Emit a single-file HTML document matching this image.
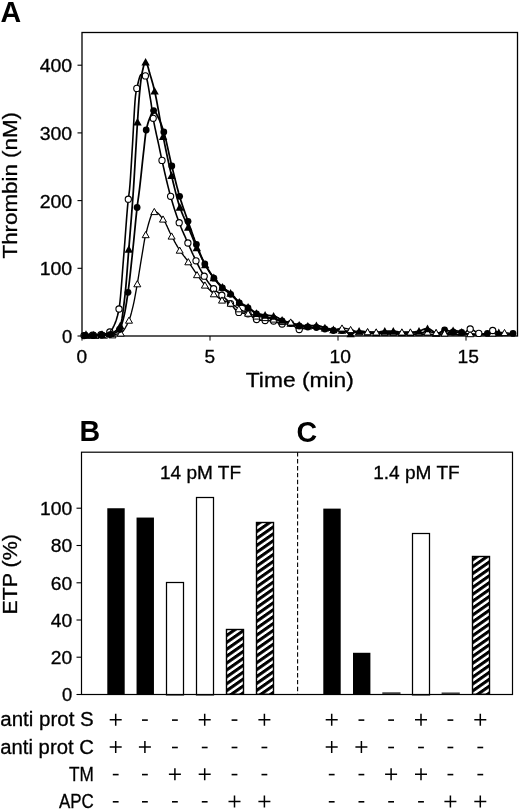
<!DOCTYPE html>
<html><head><meta charset="utf-8"><title>Figure</title>
<style>
html,body{margin:0;padding:0;background:#fff;}
body{width:520px;height:810px;overflow:hidden;font-family:"Liberation Sans",sans-serif;}
svg{display:block;will-change:transform;}
text{stroke:#000;stroke-width:.3px;}
text.b{stroke:none;}
</style></head>
<body>
<svg width="520" height="810" viewBox="0 0 520 810" font-family="Liberation Sans, sans-serif" fill="#000">
<rect width="520" height="810" fill="#fff"/>
<text x="0.5" y="22.4" font-size="28.6" text-anchor="start" font-weight="bold" class="b" >A</text>
<text x="79.5" y="441.2" font-size="28.6" text-anchor="start" font-weight="bold" class="b" >B</text>
<text x="296.5" y="441.6" font-size="28.6" text-anchor="start" font-weight="bold" class="b" >C</text>
<rect x="82.0" y="32.5" width="435.5" height="303.5" fill="none" stroke="#000" stroke-width="1.3"/>
<line x1="77.5" x2="82.0" y1="336.0" y2="336.0" stroke="#000" stroke-width="1.1"/>
<text x="72.2" y="342.9" font-size="17.5" text-anchor="end" textLength="10.2" lengthAdjust="spacingAndGlyphs" >0</text>
<line x1="77.5" x2="82.0" y1="268.3" y2="268.3" stroke="#000" stroke-width="1.1"/>
<text x="72.2" y="275.2" font-size="17.5" text-anchor="end" textLength="32.5" lengthAdjust="spacingAndGlyphs" >100</text>
<line x1="77.5" x2="82.0" y1="200.6" y2="200.6" stroke="#000" stroke-width="1.1"/>
<text x="72.2" y="207.5" font-size="17.5" text-anchor="end" textLength="32.5" lengthAdjust="spacingAndGlyphs" >200</text>
<line x1="77.5" x2="82.0" y1="132.9" y2="132.9" stroke="#000" stroke-width="1.1"/>
<text x="72.2" y="139.8" font-size="17.5" text-anchor="end" textLength="32.5" lengthAdjust="spacingAndGlyphs" >300</text>
<line x1="77.5" x2="82.0" y1="65.2" y2="65.2" stroke="#000" stroke-width="1.1"/>
<text x="72.2" y="72.1" font-size="17.5" text-anchor="end" textLength="32.5" lengthAdjust="spacingAndGlyphs" >400</text>
<line x1="82.0" x2="82.0" y1="336.0" y2="340.6" stroke="#000" stroke-width="1.0"/>
<text x="81.8" y="363.0" font-size="17.5" text-anchor="middle" textLength="10.6" lengthAdjust="spacingAndGlyphs" >0</text>
<line x1="210.0" x2="210.0" y1="336.0" y2="340.6" stroke="#000" stroke-width="1.0"/>
<text x="209.8" y="363.0" font-size="17.5" text-anchor="middle" textLength="10.6" lengthAdjust="spacingAndGlyphs" >5</text>
<line x1="338.0" x2="338.0" y1="336.0" y2="340.6" stroke="#000" stroke-width="1.0"/>
<text x="340.2" y="363.0" font-size="17.5" text-anchor="middle" textLength="21.4" lengthAdjust="spacingAndGlyphs" >10</text>
<line x1="466.0" x2="466.0" y1="336.0" y2="340.6" stroke="#000" stroke-width="1.0"/>
<text x="468.2" y="363.0" font-size="17.5" text-anchor="middle" textLength="21.4" lengthAdjust="spacingAndGlyphs" >15</text>
<text x="245.8" y="387.2" font-size="20" text-anchor="start" textLength="108" lengthAdjust="spacingAndGlyphs" >Time (min)</text>
<text transform="translate(17.4,258.5) rotate(-90)" font-size="20" textLength="146.5" lengthAdjust="spacingAndGlyphs">Thrombin (nM)</text>
<path d="M84.0,335.6 L84.5,335.6 L85.0,335.6 L85.5,335.5 L86.0,335.5 L86.5,335.5 L87.0,335.5 L87.5,335.5 L88.0,335.4 L88.5,335.4 L89.0,335.4 L89.5,335.4 L90.0,335.3 L90.5,335.3 L91.0,335.3 L91.5,335.3 L92.0,335.2 L92.5,335.2 L93.0,335.2 L93.5,335.1 L94.0,335.1 L94.5,335.1 L95.0,335.1 L95.5,335.0 L96.0,335.0 L96.5,335.0 L97.0,334.9 L97.5,334.9 L98.0,334.9 L98.5,334.8 L99.0,334.8 L99.5,334.8 L100.0,334.7 L100.5,334.7 L101.0,334.6 L101.5,334.5 L102.0,334.5 L102.5,334.4 L103.0,334.3 L103.5,334.2 L104.0,334.1 L104.5,334.0 L105.0,333.9 L105.5,333.7 L106.0,333.6 L106.5,333.4 L107.0,333.3 L107.5,333.1 L108.0,332.9 L108.5,332.6 L109.0,332.4 L109.5,332.2 L110.0,331.9 L110.5,331.5 L111.0,330.9 L111.5,330.3 L112.0,329.5 L112.5,328.6 L113.0,327.7 L113.5,326.6 L114.0,325.6 L114.5,324.5 L115.0,323.4 L115.5,322.1 L116.0,320.8 L116.5,319.3 L117.0,317.6 L117.5,315.8 L118.0,313.8 L118.5,311.5 L119.0,309.0 L119.5,305.8 L120.0,301.6 L120.5,296.6 L121.0,290.9 L121.5,284.7 L122.0,278.2 L122.5,271.5 L123.0,265.0 L123.5,258.6 L124.0,252.6 L124.5,246.3 L125.0,239.7 L125.5,233.0 L126.0,226.2 L126.5,219.6 L127.0,213.3 L127.5,207.4 L128.0,202.1 L128.5,197.5 L129.0,194.0 L129.5,190.0 L130.0,184.3 L130.5,177.3 L131.0,169.4 L131.5,161.1 L132.0,152.8 L132.5,144.8 L133.0,136.0 L133.5,126.7 L134.0,117.3 L134.5,108.7 L135.0,101.3 L135.5,95.8 L136.0,92.3 L136.5,89.7 L137.0,87.5 L137.5,85.4 L138.0,83.2 L138.5,81.1 L139.0,79.2 L139.5,77.5 L140.0,76.1 L140.5,75.1 L141.0,74.6 L141.5,74.6 L142.0,74.7 L142.5,74.7 L143.0,74.9 L143.5,75.0 L144.0,75.2 L144.5,75.4 L145.0,75.7 L145.5,76.0 L146.0,76.7 L146.5,78.0 L147.0,79.8 L147.5,82.0 L148.0,84.6 L148.5,87.4 L149.0,90.4 L149.5,93.4 L150.0,96.5 L150.5,99.4 L151.0,102.5 L151.5,106.1 L152.0,109.9 L152.5,113.6 L153.0,117.1 L153.5,120.0 L154.0,122.8 L154.5,125.4 L155.0,127.8 L155.5,130.2 L156.0,132.5 L156.5,134.8 L157.0,137.0 L157.5,139.2 L158.0,141.5 L158.5,143.8 L159.0,146.2 L159.5,148.6 L160.0,151.0 L160.5,153.4 L161.0,155.8 L161.5,158.1 L162.0,160.4 L162.5,162.6 L163.0,164.9 L163.5,167.1 L164.0,169.3 L164.5,171.6 L165.0,173.7 L165.5,175.9 L166.0,178.1 L166.5,180.2 L167.0,182.3 L167.5,184.4 L168.0,186.4 L168.5,188.4 L169.0,190.4 L169.5,192.3 L170.0,194.1 L170.5,195.9 L171.0,197.7 L171.5,199.4 L172.0,201.1 L172.5,202.8 L173.0,204.5 L173.5,206.1 L174.0,207.7 L174.5,209.2 L175.0,210.8 L175.5,212.3 L176.0,213.8 L176.5,215.2 L177.0,216.7 L177.5,218.1 L178.0,219.5 L178.5,220.8 L179.0,222.2 L179.5,223.5 L180.0,224.8 L180.5,226.0 L181.0,227.3 L181.5,228.5 L182.0,229.7 L182.5,230.9 L183.0,232.0 L183.5,233.2 L184.0,234.3 L184.5,235.4 L185.0,236.5 L185.5,237.6 L186.0,238.8 L186.5,239.9 L187.0,241.0 L187.5,242.1 L188.0,243.2 L188.5,244.4 L189.0,245.5 L189.5,246.6 L190.0,247.8 L190.5,248.9 L191.0,250.0 L191.5,251.1 L192.0,252.3 L192.5,253.4 L193.0,254.5 L193.5,255.5 L194.0,256.6 L194.5,257.7 L195.0,258.7 L195.5,259.8 L196.0,260.8 L196.5,261.8 L197.0,262.8 L197.5,263.8 L198.0,264.8 L198.5,265.8 L199.0,266.8 L199.5,267.8 L200.0,268.8 L200.5,269.7 L201.0,270.7 L201.5,271.6 L202.0,272.5 L202.5,273.4 L203.0,274.2 L203.5,275.1 L204.0,275.9 L204.5,276.7 L205.0,277.4 L205.5,278.2 L206.0,279.0 L206.5,279.7 L207.0,280.4 L207.5,281.2 L208.0,281.9 L208.5,282.6 L209.0,283.3 L209.5,283.9 L210.0,284.6 L210.5,285.2 L211.0,285.8 L211.5,286.4 L212.0,287.0 L212.5,287.6 L213.0,288.1 L213.5,288.6 L214.0,289.1 L214.5,289.5 L215.0,290.0 L215.5,290.4 L216.0,290.8 L216.5,291.2 L217.0,291.6 L217.5,291.9 L218.0,292.3 L218.5,292.6 L219.0,293.0 L219.5,293.4 L220.0,293.7 L220.5,294.1 L221.0,294.5 L221.5,294.9 L222.0,295.4 L222.5,295.8 L223.0,296.3 L223.5,296.7 L224.0,297.2 L224.5,297.7 L225.0,298.1 L225.5,298.6 L226.0,299.1 L226.5,299.6 L227.0,300.1 L227.5,300.6 L228.0,301.1 L228.5,301.6 L229.0,302.1 L229.5,302.6 L230.0,303.1 L230.5,303.6 L231.0,304.1 L231.5,304.7 L232.0,305.3 L232.5,306.0 L233.0,306.6 L233.5,307.3 L234.0,307.9 L234.5,308.6 L235.0,309.2 L235.5,309.8 L236.0,310.4 L236.5,310.9 L237.0,311.3 L237.5,311.7 L238.0,312.1 L238.5,312.3 L239.0,312.5 L239.5,312.6 L240.0,312.7 L240.5,312.8 L241.0,312.8 L241.5,312.9 L242.0,313.0 L242.5,313.0 L243.0,313.1 L243.5,313.1 L244.0,313.2 L244.5,313.2 L245.0,313.3 L245.5,313.3 L246.0,313.4 L246.5,313.5 L247.0,313.6 L247.5,313.7 L248.0,313.8 L248.5,314.0 L249.0,314.2 L249.5,314.5 L250.0,314.8 L250.5,315.2 L251.0,315.6 L251.5,316.0 L252.0,316.5 L252.5,316.9 L253.0,317.4 L253.5,317.8 L254.0,318.2 L254.5,318.6 L255.0,318.9 L255.5,319.2 L256.0,319.4 L256.5,319.5 L257.0,319.6 L257.5,319.7 L258.0,319.8 L258.5,319.8 L259.0,319.9 L259.5,320.0 L260.0,320.0 L260.5,320.1 L261.0,320.2 L261.5,320.2 L262.0,320.3 L262.5,320.3 L263.0,320.3 L263.5,320.4 L264.0,320.4 L264.5,320.5 L265.0,320.5 L265.5,320.5 L266.0,320.6 L266.5,320.6 L267.0,320.6 L267.5,320.6 L268.0,320.7 L268.5,320.7 L269.0,320.7 L269.5,320.7 L270.0,320.8 L270.5,320.8 L271.0,320.8 L271.5,320.8 L272.0,320.9 L272.5,320.9 L273.0,320.9 L273.5,321.0 L274.0,321.1 L274.5,321.2 L275.0,321.3 L275.5,321.5 L276.0,321.7 L276.5,321.9 L277.0,322.2 L277.5,322.4 L278.0,322.7 L278.5,322.9 L279.0,323.1 L279.5,323.4 L280.0,323.6 L280.5,323.7 L281.0,323.9 L281.5,323.9 L282.0,324.0 L282.5,324.0 L283.0,324.0 L283.5,324.0 L284.0,324.0 L284.5,324.0 L285.0,324.0 L285.5,324.0 L286.0,324.0 L286.5,324.0 L287.0,324.0 L287.5,324.0 L288.0,324.0 L288.5,324.0 L289.0,324.0 L289.5,324.0 L290.0,324.0 L290.5,324.0 L291.0,324.1 L291.5,324.2 L292.0,324.4 L292.5,324.7 L293.0,325.0 L293.5,325.4 L294.0,325.9 L294.5,326.3 L295.0,326.8 L295.5,327.3 L296.0,327.7 L296.5,328.2 L297.0,328.6 L297.5,328.9 L298.0,329.2 L298.5,329.4 L299.0,329.5 L299.5,329.5 L300.0,329.5 L300.5,329.4 L301.0,329.3 L301.5,329.1 L302.0,329.0 L302.5,328.8 L303.0,328.6 L303.5,328.4 L304.0,328.3 L304.5,328.1 L305.0,327.9 L305.5,327.8 L306.0,327.6 L306.5,327.5 L307.0,327.4 L307.5,327.4 L308.0,327.4 L308.5,327.4 L309.0,327.4 L309.5,327.4 L310.0,327.5 L310.5,327.5 L311.0,327.6 L311.5,327.7 L312.0,327.7 L312.5,327.8 L313.0,327.9 L313.5,328.0 L314.0,328.0 L314.5,328.1 L315.0,328.2 L315.5,328.3 L316.0,328.3 L316.5,328.4 L317.0,328.4 L317.5,328.5 L318.0,328.6 L318.5,328.6 L319.0,328.7 L319.5,328.7 L320.0,328.8 L320.5,328.8 L321.0,328.9 L321.5,329.0 L322.0,329.0 L322.5,329.1 L323.0,329.1 L323.5,329.2 L324.0,329.2 L324.5,329.3 L325.0,329.4 L325.5,329.4 L326.0,329.5 L326.5,329.5 L327.0,329.6 L327.5,329.6 L328.0,329.7 L328.5,329.8 L329.0,329.8 L329.5,329.9 L330.0,329.9 L330.5,330.0 L331.0,330.0 L331.5,330.1 L332.0,330.1 L332.5,330.2 L333.0,330.2 L333.5,330.3 L334.0,330.4 L334.5,330.4 L335.0,330.5 L335.5,330.5 L336.0,330.6 L336.5,330.6 L337.0,330.7 L337.5,330.7 L338.0,330.7 L338.5,330.8 L339.0,330.8 L339.5,330.9 L340.0,330.9 L340.5,331.0 L341.0,331.0 L341.5,331.1 L342.0,331.1 L342.5,331.2 L343.0,331.2 L343.5,331.2 L344.0,331.3 L344.5,331.3 L345.0,331.4 L345.5,331.4 L346.0,331.4 L346.5,331.5 L347.0,331.5 L347.5,331.6 L348.0,331.6 L348.5,331.6 L349.0,331.7 L349.5,331.7 L350.0,331.7 L350.5,331.8 L351.0,331.8 L351.5,331.8 L352.0,331.9 L352.5,331.9 L353.0,332.0 L353.5,332.0 L354.0,332.0 L354.5,332.1 L355.0,332.1 L355.5,332.1 L356.0,332.2 L356.5,332.2 L357.0,332.2 L357.5,332.3 L358.0,332.3 L358.5,332.3 L359.0,332.4 L359.5,332.4 L360.0,332.4 L360.5,332.4 L361.0,332.5 L361.5,332.5 L362.0,332.5 L362.5,332.6 L363.0,332.6 L363.5,332.6 L364.0,332.6 L364.5,332.7 L365.0,332.7 L365.5,332.7 L366.0,332.7 L366.5,332.8 L367.0,332.8 L367.5,332.8 L368.0,332.8 L368.5,332.9 L369.0,332.9 L369.5,332.9 L370.0,332.9 L370.5,333.0 L371.0,333.0 L371.5,333.0 L372.0,333.0 L372.5,333.1 L373.0,333.1 L373.5,333.1 L374.0,333.1 L374.5,333.2 L375.0,333.2 L375.5,333.2 L376.0,333.2 L376.5,333.2 L377.0,333.3 L377.5,333.3 L378.0,333.3 L378.5,333.3 L379.0,333.3 L379.5,333.3 L380.0,333.3 L380.5,333.4 L381.0,333.4 L381.5,333.4 L382.0,333.4 L382.5,333.4 L383.0,333.4 L383.5,333.4 L384.0,333.5 L384.5,333.5 L385.0,333.5 L385.5,333.5 L386.0,333.5 L386.5,333.5 L387.0,333.5 L387.5,333.6 L388.0,333.6 L388.5,333.6 L389.0,333.6 L389.5,333.6 L390.0,333.6 L390.5,333.6 L391.0,333.6 L391.5,333.7 L392.0,333.7 L392.5,333.7 L393.0,333.7 L393.5,333.7 L394.0,333.7 L394.5,333.7 L395.0,333.8 L395.5,333.8 L396.0,333.8 L396.5,333.8 L397.0,333.8 L397.5,333.8 L398.0,333.8 L398.5,333.9 L399.0,333.9 L399.5,333.9 L400.0,333.9 L400.5,333.9 L401.0,333.9 L401.5,333.9 L402.0,333.9 L402.5,334.0 L403.0,334.0 L403.5,334.0 L404.0,334.0 L404.5,334.0 L405.0,334.0 L405.5,334.0 L406.0,334.0 L406.5,334.0 L407.0,334.0 L407.5,334.1 L408.0,334.1 L408.5,334.1 L409.0,334.1 L409.5,334.1 L410.0,334.1 L410.5,334.1 L411.0,334.1 L411.5,334.1 L412.0,334.1 L412.5,334.2 L413.0,334.2 L413.5,334.2 L414.0,334.2 L414.5,334.2 L415.0,334.2 L415.5,334.2 L416.0,334.2 L416.5,334.2 L417.0,334.2 L417.5,334.3 L418.0,334.3 L418.5,334.3 L419.0,334.3 L419.5,334.3 L420.0,334.3 L420.5,334.3 L421.0,334.3 L421.5,334.3 L422.0,334.3 L422.5,334.3 L423.0,334.3 L423.5,334.4 L424.0,334.4 L424.5,334.4 L425.0,334.4 L425.5,334.4 L426.0,334.4 L426.5,334.4 L427.0,334.4 L427.5,334.4 L428.0,334.4 L428.5,334.4 L429.0,334.4 L429.5,334.4 L430.0,334.5 L430.5,334.5 L431.0,334.5 L431.5,334.5 L432.0,334.5 L432.5,334.5 L433.0,334.5 L433.5,334.5 L434.0,334.5 L434.5,334.5 L435.0,334.5 L435.5,334.5 L436.0,334.5 L436.5,334.5 L437.0,334.5 L437.5,334.6 L438.0,334.6 L438.5,334.6 L439.0,334.6 L439.5,334.6 L440.0,334.6 L440.5,334.6 L441.0,334.6 L441.5,334.6 L442.0,334.6 L442.5,334.6 L443.0,334.6 L443.5,334.6 L444.0,334.6 L444.5,334.6 L445.0,334.6 L445.5,334.6 L446.0,334.6 L446.5,334.6 L447.0,334.6 L447.5,334.6 L448.0,334.6 L448.5,334.6 L449.0,334.6 L449.5,334.6 L450.0,334.6 L450.5,334.6 L451.0,334.6 L451.5,334.6 L452.0,334.6 L452.5,334.6 L453.0,334.6 L453.5,334.6 L454.0,334.6 L454.5,334.6 L455.0,334.6 L455.5,334.6 L456.0,334.6 L456.5,334.6 L457.0,334.6 L457.5,334.6 L458.0,334.6 L458.5,334.6 L459.0,334.6 L459.5,334.6 L460.0,334.6 L460.5,334.6 L461.0,334.6 L461.5,334.6 L462.0,334.6 L462.5,334.5 L463.0,334.3 L463.5,334.0 L464.0,333.6 L464.5,333.2 L465.0,332.7 L465.5,332.3 L466.0,331.8 L466.5,331.3 L467.0,330.8 L467.5,330.4 L468.0,330.0 L468.5,329.6 L469.0,329.3 L469.5,329.1 L470.0,329.0 L470.5,329.0 L471.0,329.1 L471.5,329.2 L472.0,329.4 L472.5,329.7 L473.0,329.9 L473.5,330.3 L474.0,330.6 L474.5,330.9 L475.0,331.3 L475.5,331.7 L476.0,332.0 L476.5,332.3 L477.0,332.6 L477.5,332.9 L478.0,333.1 L478.5,333.3 L479.0,333.4 L479.5,333.6 L480.0,333.7 L480.5,333.8 L481.0,333.9 L481.5,334.0 L482.0,334.1 L482.5,334.1 L483.0,334.2 L483.5,334.3 L484.0,334.4 L484.5,334.4 L485.0,334.5 L485.5,334.5 L486.0,334.6 L486.5,334.6 L487.0,334.6 L487.5,334.6 L488.0,334.4 L488.5,334.1 L489.0,333.7 L489.5,333.1 L490.0,332.6 L490.5,332.0 L491.0,331.5 L491.5,331.0 L492.0,330.7 L492.5,330.5 L493.0,330.5 L493.5,330.6 L494.0,330.6 L494.5,330.8 L495.0,330.9 L495.5,331.1 L496.0,331.3 L496.5,331.5 L497.0,331.7 L497.5,332.0 L498.0,332.3 L498.5,332.5 L499.0,332.8 L499.5,333.0 L500.0,333.3 L500.5,333.5 L501.0,333.7 L501.5,334.0 L502.0,334.1 L502.5,334.3 L503.0,334.4 L503.5,334.5 L504.0,334.6 L504.5,334.6 L505.0,334.6 L505.5,334.6 L506.0,334.6 L506.5,334.6 L507.0,334.6 L507.5,334.6 L508.0,334.6 L508.5,334.6 L509.0,334.6 L509.5,334.6 L510.0,334.6 L510.5,334.6 L511.0,334.6 L511.5,334.6 L512.0,334.6 L512.5,334.6 L513.0,334.6" fill="none" stroke="#000" stroke-width="1.6" stroke-linejoin="round"/>
<circle cx="84.0" cy="335.6" r="3.1" fill="#fff" stroke="#000" stroke-width="1.1"/>
<circle cx="92.5" cy="335.2" r="3.1" fill="#fff" stroke="#000" stroke-width="1.1"/>
<circle cx="101.0" cy="334.6" r="3.1" fill="#fff" stroke="#000" stroke-width="1.1"/>
<circle cx="109.8" cy="332.0" r="3.1" fill="#fff" stroke="#000" stroke-width="1.1"/>
<circle cx="119.0" cy="309.0" r="3.1" fill="#fff" stroke="#000" stroke-width="1.1"/>
<circle cx="128.3" cy="199.2" r="3.1" fill="#fff" stroke="#000" stroke-width="1.1"/>
<circle cx="136.8" cy="88.4" r="3.1" fill="#fff" stroke="#000" stroke-width="1.1"/>
<circle cx="145.4" cy="75.9" r="3.1" fill="#fff" stroke="#000" stroke-width="1.1"/>
<circle cx="153.2" cy="118.3" r="3.1" fill="#fff" stroke="#000" stroke-width="1.1"/>
<circle cx="162.0" cy="160.4" r="3.1" fill="#fff" stroke="#000" stroke-width="1.1"/>
<circle cx="170.6" cy="196.3" r="3.1" fill="#fff" stroke="#000" stroke-width="1.1"/>
<circle cx="179.2" cy="222.7" r="3.1" fill="#fff" stroke="#000" stroke-width="1.1"/>
<circle cx="187.9" cy="243.0" r="3.1" fill="#fff" stroke="#000" stroke-width="1.1"/>
<circle cx="196.0" cy="260.8" r="3.1" fill="#fff" stroke="#000" stroke-width="1.1"/>
<circle cx="204.2" cy="276.2" r="3.1" fill="#fff" stroke="#000" stroke-width="1.1"/>
<circle cx="213.6" cy="288.7" r="3.1" fill="#fff" stroke="#000" stroke-width="1.1"/>
<circle cx="221.8" cy="295.2" r="3.1" fill="#fff" stroke="#000" stroke-width="1.1"/>
<circle cx="230.5" cy="303.6" r="3.1" fill="#fff" stroke="#000" stroke-width="1.1"/>
<circle cx="238.8" cy="312.4" r="3.1" fill="#fff" stroke="#000" stroke-width="1.1"/>
<circle cx="248.0" cy="313.8" r="3.1" fill="#fff" stroke="#000" stroke-width="1.1"/>
<path d="M87.0,335.4 L87.5,335.4 L88.0,335.4 L88.5,335.4 L89.0,335.4 L89.5,335.4 L90.0,335.4 L90.5,335.4 L91.0,335.4 L91.5,335.4 L92.0,335.4 L92.5,335.4 L93.0,335.4 L93.5,335.4 L94.0,335.4 L94.5,335.4 L95.0,335.4 L95.5,335.4 L96.0,335.4 L96.5,335.4 L97.0,335.4 L97.5,335.4 L98.0,335.4 L98.5,335.4 L99.0,335.4 L99.5,335.3 L100.0,335.3 L100.5,335.3 L101.0,335.3 L101.5,335.3 L102.0,335.3 L102.5,335.2 L103.0,335.2 L103.5,335.2 L104.0,335.2 L104.5,335.2 L105.0,335.2 L105.5,335.2 L106.0,335.1 L106.5,335.1 L107.0,335.1 L107.5,335.1 L108.0,335.1 L108.5,335.0 L109.0,335.0 L109.5,335.0 L110.0,335.0 L110.5,334.9 L111.0,334.9 L111.5,334.9 L112.0,334.8 L112.5,334.8 L113.0,334.8 L113.5,334.7 L114.0,334.7 L114.5,334.6 L115.0,334.5 L115.5,334.4 L116.0,334.3 L116.5,334.2 L117.0,334.1 L117.5,334.0 L118.0,333.9 L118.5,333.8 L119.0,333.6 L119.5,333.5 L120.0,333.3 L120.5,333.1 L121.0,332.9 L121.5,332.6 L122.0,332.3 L122.5,331.8 L123.0,331.3 L123.5,330.6 L124.0,329.9 L124.5,329.2 L125.0,328.4 L125.5,327.5 L126.0,326.5 L126.5,325.6 L127.0,324.6 L127.5,323.5 L128.0,322.4 L128.5,321.3 L129.0,320.2 L129.5,319.0 L130.0,317.5 L130.5,316.0 L131.0,314.2 L131.5,312.4 L132.0,310.4 L132.5,308.4 L133.0,306.3 L133.5,304.1 L134.0,301.8 L134.5,299.3 L135.0,296.7 L135.5,293.9 L136.0,291.1 L136.5,288.3 L137.0,285.4 L137.5,282.6 L138.0,279.6 L138.5,276.6 L139.0,273.5 L139.5,270.4 L140.0,267.3 L140.5,264.2 L141.0,261.2 L141.5,258.2 L142.0,255.2 L142.5,252.2 L143.0,249.1 L143.5,246.0 L144.0,243.0 L144.5,240.2 L145.0,237.6 L145.5,235.4 L146.0,233.5 L146.5,231.5 L147.0,229.6 L147.5,227.7 L148.0,225.8 L148.5,224.0 L149.0,222.3 L149.5,220.6 L150.0,219.0 L150.5,217.5 L151.0,216.1 L151.5,214.9 L152.0,213.9 L152.5,213.0 L153.0,212.3 L153.5,211.8 L154.0,211.5 L154.5,211.5 L155.0,211.6 L155.5,211.7 L156.0,211.9 L156.5,212.2 L157.0,212.5 L157.5,212.9 L158.0,213.3 L158.5,213.8 L159.0,214.3 L159.5,214.8 L160.0,215.4 L160.5,216.0 L161.0,216.6 L161.5,217.2 L162.0,217.8 L162.5,218.4 L163.0,219.0 L163.5,219.6 L164.0,220.4 L164.5,221.2 L165.0,222.1 L165.5,223.0 L166.0,224.0 L166.5,225.1 L167.0,226.1 L167.5,227.2 L168.0,228.4 L168.5,229.5 L169.0,230.6 L169.5,231.7 L170.0,232.8 L170.5,233.8 L171.0,234.8 L171.5,235.8 L172.0,236.7 L172.5,237.7 L173.0,238.6 L173.5,239.5 L174.0,240.4 L174.5,241.4 L175.0,242.3 L175.5,243.2 L176.0,244.1 L176.5,244.9 L177.0,245.8 L177.5,246.7 L178.0,247.5 L178.5,248.3 L179.0,249.1 L179.5,249.9 L180.0,250.7 L180.5,251.4 L181.0,252.1 L181.5,252.8 L182.0,253.5 L182.5,254.1 L183.0,254.8 L183.5,255.4 L184.0,256.1 L184.5,256.7 L185.0,257.3 L185.5,258.0 L186.0,258.6 L186.5,259.3 L187.0,259.9 L187.5,260.6 L188.0,261.3 L188.5,262.0 L189.0,262.7 L189.5,263.4 L190.0,264.2 L190.5,264.9 L191.0,265.7 L191.5,266.4 L192.0,267.2 L192.5,267.9 L193.0,268.7 L193.5,269.5 L194.0,270.2 L194.5,271.0 L195.0,271.7 L195.5,272.5 L196.0,273.2 L196.5,273.9 L197.0,274.6 L197.5,275.3 L198.0,276.0 L198.5,276.7 L199.0,277.4 L199.5,278.1 L200.0,278.8 L200.5,279.5 L201.0,280.1 L201.5,280.8 L202.0,281.5 L202.5,282.1 L203.0,282.7 L203.5,283.4 L204.0,284.0 L204.5,284.5 L205.0,285.1 L205.5,285.7 L206.0,286.2 L206.5,286.8 L207.0,287.3 L207.5,287.8 L208.0,288.3 L208.5,288.8 L209.0,289.3 L209.5,289.8 L210.0,290.3 L210.5,290.7 L211.0,291.2 L211.5,291.7 L212.0,292.1 L212.5,292.6 L213.0,293.0 L213.5,293.4 L214.0,293.9 L214.5,294.3 L215.0,294.7 L215.5,295.2 L216.0,295.6 L216.5,296.0 L217.0,296.5 L217.5,296.9 L218.0,297.3 L218.5,297.7 L219.0,298.1 L219.5,298.4 L220.0,298.8 L220.5,299.1 L221.0,299.4 L221.5,299.7 L222.0,300.0 L222.5,300.2 L223.0,300.5 L223.5,300.7 L224.0,300.9 L224.5,301.0 L225.0,301.2 L225.5,301.4 L226.0,301.5 L226.5,301.7 L227.0,301.8 L227.5,302.0 L228.0,302.2 L228.5,302.3 L229.0,302.5 L229.5,302.7 L230.0,302.9 L230.5,303.2 L231.0,303.4 L231.5,303.7 L232.0,304.0 L232.5,304.3 L233.0,304.6 L233.5,305.0 L234.0,305.4 L234.5,305.7 L235.0,306.1 L235.5,306.5 L236.0,306.8 L236.5,307.2 L237.0,307.6 L237.5,307.9 L238.0,308.2 L238.5,308.5 L239.0,308.8 L239.5,309.1 L240.0,309.4 L240.5,309.6 L241.0,309.9 L241.5,310.1 L242.0,310.4 L242.5,310.6 L243.0,310.9 L243.5,311.1 L244.0,311.3 L244.5,311.6 L245.0,311.8 L245.5,312.0 L246.0,312.2 L246.5,312.4 L247.0,312.7 L247.5,312.9 L248.0,313.1 L248.5,313.3 L249.0,313.5 L249.5,313.7 L250.0,313.9 L250.5,314.0 L251.0,314.2 L251.5,314.4 L252.0,314.6 L252.5,314.8 L253.0,315.0 L253.5,315.1 L254.0,315.3 L254.5,315.5 L255.0,315.6 L255.5,315.7 L256.0,315.9 L256.5,316.0 L257.0,316.1 L257.5,316.2 L258.0,316.3 L258.5,316.4 L259.0,316.5 L259.5,316.6 L260.0,316.7 L260.5,316.8 L261.0,316.8 L261.5,316.9 L262.0,317.0 L262.5,317.1 L263.0,317.2 L263.5,317.2 L264.0,317.3 L264.5,317.4 L265.0,317.5 L265.5,317.6 L266.0,317.7 L266.5,317.7 L267.0,317.8 L267.5,317.9 L268.0,318.0 L268.5,318.1 L269.0,318.1 L269.5,318.2 L270.0,318.3 L270.5,318.4 L271.0,318.5 L271.5,318.6 L272.0,318.7 L272.5,318.8 L273.0,318.9 L273.5,319.0 L274.0,319.1 L274.5,319.2 L275.0,319.4 L275.5,319.5 L276.0,319.7 L276.5,319.9 L277.0,320.1 L277.5,320.2 L278.0,320.4 L278.5,320.6 L279.0,320.8 L279.5,320.9 L280.0,321.1 L280.5,321.2 L281.0,321.3 L281.5,321.4 L282.0,321.5 L282.5,321.5 L283.0,321.6 L283.5,321.6 L284.0,321.6 L284.5,321.7 L285.0,321.7 L285.5,321.7 L286.0,321.7 L286.5,321.7 L287.0,321.8 L287.5,321.8 L288.0,321.8 L288.5,321.8 L289.0,321.9 L289.5,321.9 L290.0,321.9 L290.5,322.0 L291.0,322.0 L291.5,322.2 L292.0,322.3 L292.5,322.5 L293.0,322.8 L293.5,323.0 L294.0,323.3 L294.5,323.6 L295.0,324.0 L295.5,324.3 L296.0,324.6 L296.5,324.9 L297.0,325.2 L297.5,325.5 L298.0,325.7 L298.5,325.9 L299.0,326.1 L299.5,326.2 L300.0,326.3 L300.5,326.4 L301.0,326.5 L301.5,326.6 L302.0,326.6 L302.5,326.7 L303.0,326.8 L303.5,326.8 L304.0,326.9 L304.5,327.0 L305.0,327.0 L305.5,327.1 L306.0,327.2 L306.5,327.2 L307.0,327.3 L307.5,327.3 L308.0,327.4 L308.5,327.5 L309.0,327.5 L309.5,327.6 L310.0,327.6 L310.5,327.7 L311.0,327.8 L311.5,327.8 L312.0,327.9 L312.5,327.9 L313.0,328.0 L313.5,328.0 L314.0,328.1 L314.5,328.2 L315.0,328.2 L315.5,328.3 L316.0,328.3 L316.5,328.4 L317.0,328.4 L317.5,328.5 L318.0,328.6 L318.5,328.6 L319.0,328.7 L319.5,328.7 L320.0,328.8 L320.5,328.8 L321.0,328.9 L321.5,329.0 L322.0,329.0 L322.5,329.1 L323.0,329.1 L323.5,329.2 L324.0,329.2 L324.5,329.3 L325.0,329.4 L325.5,329.4 L326.0,329.5 L326.5,329.6 L327.0,329.6 L327.5,329.7 L328.0,329.8 L328.5,329.8 L329.0,329.9 L329.5,330.0 L330.0,330.0 L330.5,330.1 L331.0,330.2 L331.5,330.2 L332.0,330.2 L332.5,330.3 L333.0,330.3 L333.5,330.3 L334.0,330.3 L334.5,330.2 L335.0,330.1 L335.5,330.0 L336.0,329.8 L336.5,329.6 L337.0,329.4 L337.5,329.2 L338.0,329.0 L338.5,328.8 L339.0,328.6 L339.5,328.5 L340.0,328.3 L340.5,328.2 L341.0,328.1 L341.5,328.0 L342.0,328.0 L342.5,328.0 L343.0,328.0 L343.5,328.1 L344.0,328.1 L344.5,328.2 L345.0,328.3 L345.5,328.4 L346.0,328.5 L346.5,328.6 L347.0,328.7 L347.5,328.8 L348.0,328.9 L348.5,329.0 L349.0,329.1 L349.5,329.3 L350.0,329.4 L350.5,329.5 L351.0,329.6 L351.5,329.8 L352.0,329.9 L352.5,330.1 L353.0,330.3 L353.5,330.5 L354.0,330.7 L354.5,330.9 L355.0,331.1 L355.5,331.2 L356.0,331.4 L356.5,331.6 L357.0,331.7 L357.5,331.8 L358.0,331.9 L358.5,332.0 L359.0,332.0 L359.5,332.0 L360.0,332.0 L360.5,332.0 L361.0,332.0 L361.5,331.9 L362.0,331.9 L362.5,331.9 L363.0,331.9 L363.5,331.8 L364.0,331.8 L364.5,331.8 L365.0,331.8 L365.5,331.7 L366.0,331.7 L366.5,331.7 L367.0,331.7 L367.5,331.7 L368.0,331.7 L368.5,331.7 L369.0,331.7 L369.5,331.7 L370.0,331.7 L370.5,331.8 L371.0,331.8 L371.5,331.8 L372.0,331.8 L372.5,331.8 L373.0,331.9 L373.5,331.9 L374.0,331.9 L374.5,331.9 L375.0,331.9 L375.5,332.0 L376.0,332.0 L376.5,332.0 L377.0,332.0 L377.5,332.1 L378.0,332.1 L378.5,332.1 L379.0,332.2 L379.5,332.2 L380.0,332.3 L380.5,332.3 L381.0,332.3 L381.5,332.4 L382.0,332.4 L382.5,332.4 L383.0,332.5 L383.5,332.5 L384.0,332.5 L384.5,332.5 L385.0,332.5 L385.5,332.5 L386.0,332.5 L386.5,332.5 L387.0,332.5 L387.5,332.5 L388.0,332.5 L388.5,332.5 L389.0,332.5 L389.5,332.5 L390.0,332.5 L390.5,332.5 L391.0,332.5 L391.5,332.5 L392.0,332.5 L392.5,332.5 L393.0,332.5 L393.5,332.5 L394.0,332.5 L394.5,332.5 L395.0,332.4 L395.5,332.4 L396.0,332.4 L396.5,332.3 L397.0,332.3 L397.5,332.3 L398.0,332.2 L398.5,332.2 L399.0,332.1 L399.5,332.1 L400.0,332.1 L400.5,332.0 L401.0,332.0 L401.5,332.0 L402.0,332.0 L402.5,332.0 L403.0,332.0 L403.5,332.0 L404.0,332.0 L404.5,332.0 L405.0,332.0 L405.5,332.0 L406.0,332.0 L406.5,332.0 L407.0,332.0 L407.5,332.0 L408.0,332.0 L408.5,332.0 L409.0,332.0 L409.5,332.0 L410.0,332.0 L410.5,332.0 L411.0,332.0 L411.5,332.0 L412.0,332.0 L412.5,332.1 L413.0,332.1 L413.5,332.1 L414.0,332.2 L414.5,332.2 L415.0,332.3 L415.5,332.3 L416.0,332.4 L416.5,332.4 L417.0,332.4 L417.5,332.5 L418.0,332.5 L418.5,332.5 L419.0,332.5 L419.5,332.5 L420.0,332.5 L420.5,332.5 L421.0,332.4 L421.5,332.4 L422.0,332.4 L422.5,332.3 L423.0,332.3 L423.5,332.2 L424.0,332.2 L424.5,332.1 L425.0,332.1 L425.5,332.1 L426.0,332.0 L426.5,332.0 L427.0,332.0 L427.5,332.0 L428.0,332.0 L428.5,332.0 L429.0,332.0 L429.5,332.0 L430.0,332.1 L430.5,332.1 L431.0,332.1 L431.5,332.2 L432.0,332.2 L432.5,332.2 L433.0,332.3 L433.5,332.3 L434.0,332.4 L434.5,332.4 L435.0,332.4 L435.5,332.5 L436.0,332.5 L436.5,332.5 L437.0,332.6 L437.5,332.6 L438.0,332.6 L438.5,332.6 L439.0,332.7 L439.5,332.7 L440.0,332.7 L440.5,332.7 L441.0,332.8 L441.5,332.8 L442.0,332.8 L442.5,332.8 L443.0,332.9 L443.5,332.9 L444.0,332.9 L444.5,333.0 L445.0,333.0 L445.5,333.1 L446.0,333.2 L446.5,333.3 L447.0,333.4 L447.5,333.5 L448.0,333.7 L448.5,333.8 L449.0,333.9 L449.5,334.1 L450.0,334.2 L450.5,334.3 L451.0,334.4 L451.5,334.5 L452.0,334.5 L452.5,334.6 L453.0,334.6 L453.5,334.6 L454.0,334.6 L454.5,334.6 L455.0,334.6 L455.5,334.6 L456.0,334.6 L456.5,334.6 L457.0,334.6 L457.5,334.6 L458.0,334.6 L458.5,334.6 L459.0,334.6 L459.5,334.6 L460.0,334.6 L460.5,334.6 L461.0,334.6 L461.5,334.6 L462.0,334.6 L462.5,334.6 L463.0,334.5 L463.5,334.5 L464.0,334.4 L464.5,334.3 L465.0,334.3 L465.5,334.2 L466.0,334.1 L466.5,334.0 L467.0,333.9 L467.5,333.8 L468.0,333.8 L468.5,333.7 L469.0,333.7 L469.5,333.6 L470.0,333.6 L470.5,333.6 L471.0,333.6 L471.5,333.7 L472.0,333.7 L472.5,333.8 L473.0,333.8 L473.5,333.9 L474.0,334.0 L474.5,334.1 L475.0,334.2 L475.5,334.3 L476.0,334.3 L476.5,334.4 L477.0,334.5 L477.5,334.5 L478.0,334.6 L478.5,334.6 L479.0,334.6 L479.5,334.6 L480.0,334.6 L480.5,334.6 L481.0,334.6 L481.5,334.6 L482.0,334.6 L482.5,334.6 L483.0,334.6 L483.5,334.6 L484.0,334.6 L484.5,334.6 L485.0,334.6 L485.5,334.6 L486.0,334.6 L486.5,334.6 L487.0,334.6 L487.5,334.6 L488.0,334.5 L488.5,334.4 L489.0,334.3 L489.5,334.1 L490.0,333.9 L490.5,333.7 L491.0,333.4 L491.5,333.3 L492.0,333.1 L492.5,333.0 L493.0,333.0 L493.5,332.9 L494.0,332.9 L494.5,332.9 L495.0,332.8 L495.5,332.8 L496.0,332.8 L496.5,332.7 L497.0,332.7 L497.5,332.7 L498.0,332.7 L498.5,332.6 L499.0,332.6 L499.5,332.6 L500.0,332.6 L500.5,332.6 L501.0,332.5 L501.5,332.5 L502.0,332.5 L502.5,332.5 L503.0,332.5 L503.5,332.5 L504.0,332.5 L504.5,332.5 L505.0,332.5 L505.5,332.5 L506.0,332.6 L506.5,332.7 L507.0,332.8 L507.5,332.9 L508.0,333.0 L508.5,333.1 L509.0,333.2 L509.5,333.4 L510.0,333.5 L510.5,333.7 L511.0,333.9 L511.5,334.1 L512.0,334.2 L512.5,334.4 L513.0,334.6" fill="none" stroke="#000" stroke-width="1.35" stroke-linejoin="round"/>
<polygon points="87.0,332.3 90.5,338.4 83.5,338.4" fill="#fff" stroke="#000" stroke-width="1.0" stroke-linejoin="miter"/>
<polygon points="95.5,332.3 99.0,338.4 92.0,338.4" fill="#fff" stroke="#000" stroke-width="1.0" stroke-linejoin="miter"/>
<polygon points="104.0,332.1 107.5,338.2 100.5,338.2" fill="#fff" stroke="#000" stroke-width="1.0" stroke-linejoin="miter"/>
<polygon points="112.5,331.8 116.0,337.9 109.0,337.9" fill="#fff" stroke="#000" stroke-width="1.0" stroke-linejoin="miter"/>
<polygon points="120.8,329.9 124.3,336.1 117.3,336.1" fill="#fff" stroke="#000" stroke-width="1.0" stroke-linejoin="miter"/>
<polygon points="129.0,317.1 132.5,323.2 125.5,323.2" fill="#fff" stroke="#000" stroke-width="1.0" stroke-linejoin="miter"/>
<polygon points="137.3,280.6 140.8,286.8 133.8,286.8" fill="#fff" stroke="#000" stroke-width="1.0" stroke-linejoin="miter"/>
<polygon points="145.7,231.5 149.2,237.7 142.2,237.7" fill="#fff" stroke="#000" stroke-width="1.0" stroke-linejoin="miter"/>
<polygon points="154.3,208.4 157.8,214.6 150.8,214.6" fill="#fff" stroke="#000" stroke-width="1.0" stroke-linejoin="miter"/>
<polygon points="163.0,215.9 166.5,222.1 159.5,222.1" fill="#fff" stroke="#000" stroke-width="1.0" stroke-linejoin="miter"/>
<polygon points="171.6,232.9 175.1,239.1 168.1,239.1" fill="#fff" stroke="#000" stroke-width="1.0" stroke-linejoin="miter"/>
<polygon points="179.7,247.1 183.2,253.2 176.2,253.2" fill="#fff" stroke="#000" stroke-width="1.0" stroke-linejoin="miter"/>
<polygon points="188.3,258.6 191.8,264.8 184.8,264.8" fill="#fff" stroke="#000" stroke-width="1.0" stroke-linejoin="miter"/>
<polygon points="197.0,271.6 200.5,277.7 193.5,277.7" fill="#fff" stroke="#000" stroke-width="1.0" stroke-linejoin="miter"/>
<polygon points="204.9,281.9 208.4,288.1 201.4,288.1" fill="#fff" stroke="#000" stroke-width="1.0" stroke-linejoin="miter"/>
<polygon points="213.8,290.6 217.3,296.8 210.3,296.8" fill="#fff" stroke="#000" stroke-width="1.0" stroke-linejoin="miter"/>
<polygon points="222.0,296.9 225.5,303.1 218.5,303.1" fill="#fff" stroke="#000" stroke-width="1.0" stroke-linejoin="miter"/>
<polygon points="230.6,300.1 234.1,306.2 227.1,306.2" fill="#fff" stroke="#000" stroke-width="1.0" stroke-linejoin="miter"/>
<polygon points="238.8,305.6 242.3,311.8 235.3,311.8" fill="#fff" stroke="#000" stroke-width="1.0" stroke-linejoin="miter"/>
<polygon points="248.1,310.1 251.6,316.2 244.6,316.2" fill="#fff" stroke="#000" stroke-width="1.0" stroke-linejoin="miter"/>
<path d="M84.5,335.6 L85.0,335.6 L85.5,335.6 L86.0,335.6 L86.5,335.6 L87.0,335.6 L87.5,335.6 L88.0,335.6 L88.5,335.6 L89.0,335.6 L89.5,335.6 L90.0,335.6 L90.5,335.6 L91.0,335.6 L91.5,335.6 L92.0,335.6 L92.5,335.6 L93.0,335.6 L93.5,335.6 L94.0,335.6 L94.5,335.6 L95.0,335.6 L95.5,335.5 L96.0,335.5 L96.5,335.5 L97.0,335.5 L97.5,335.4 L98.0,335.4 L98.5,335.4 L99.0,335.4 L99.5,335.3 L100.0,335.3 L100.5,335.3 L101.0,335.2 L101.5,335.2 L102.0,335.2 L102.5,335.1 L103.0,335.1 L103.5,335.1 L104.0,335.1 L104.5,335.0 L105.0,335.0 L105.5,335.0 L106.0,335.0 L106.5,334.9 L107.0,334.9 L107.5,334.8 L108.0,334.8 L108.5,334.8 L109.0,334.7 L109.5,334.7 L110.0,334.6 L110.5,334.5 L111.0,334.4 L111.5,334.3 L112.0,334.2 L112.5,334.0 L113.0,333.9 L113.5,333.7 L114.0,333.5 L114.5,333.2 L115.0,332.9 L115.5,332.7 L116.0,332.4 L116.5,332.0 L117.0,331.7 L117.5,331.3 L118.0,330.9 L118.5,330.4 L119.0,330.0 L119.5,329.5 L120.0,328.8 L120.5,327.9 L121.0,326.7 L121.5,325.2 L122.0,323.6 L122.5,321.8 L123.0,320.0 L123.5,318.0 L124.0,316.0 L124.5,313.8 L125.0,311.4 L125.5,308.6 L126.0,305.7 L126.5,302.5 L127.0,299.2 L127.5,295.8 L128.0,292.3 L128.5,288.6 L129.0,284.7 L129.5,280.5 L130.0,276.1 L130.5,271.6 L131.0,266.9 L131.5,262.2 L132.0,257.5 L132.5,252.7 L133.0,248.0 L133.5,243.2 L134.0,238.2 L134.5,233.0 L135.0,227.8 L135.5,222.7 L136.0,217.7 L136.5,212.9 L137.0,208.4 L137.5,204.2 L138.0,200.5 L138.5,196.9 L139.0,193.2 L139.5,189.2 L140.0,184.9 L140.5,180.4 L141.0,175.8 L141.5,171.1 L142.0,166.4 L142.5,161.7 L143.0,157.1 L143.5,152.6 L144.0,148.3 L144.5,143.7 L145.0,139.1 L145.5,134.9 L146.0,131.4 L146.5,128.8 L147.0,126.7 L147.5,124.7 L148.0,123.0 L148.5,121.4 L149.0,120.0 L149.5,118.7 L150.0,117.5 L150.5,116.3 L151.0,115.0 L151.5,113.7 L152.0,112.6 L152.5,111.6 L153.0,110.9 L153.5,110.6 L154.0,110.7 L154.5,111.0 L155.0,111.5 L155.5,112.2 L156.0,113.0 L156.5,114.0 L157.0,115.0 L157.5,116.0 L158.0,117.0 L158.5,118.0 L159.0,119.0 L159.5,120.1 L160.0,121.2 L160.5,122.5 L161.0,123.8 L161.5,125.1 L162.0,126.5 L162.5,128.0 L163.0,129.5 L163.5,131.1 L164.0,132.7 L164.5,134.5 L165.0,136.3 L165.5,138.3 L166.0,140.3 L166.5,142.4 L167.0,144.6 L167.5,146.9 L168.0,149.1 L168.5,151.4 L169.0,153.7 L169.5,156.0 L170.0,158.3 L170.5,160.5 L171.0,162.7 L171.5,164.8 L172.0,166.8 L172.5,168.8 L173.0,170.9 L173.5,172.9 L174.0,175.0 L174.5,177.0 L175.0,179.0 L175.5,181.0 L176.0,183.0 L176.5,185.0 L177.0,186.9 L177.5,188.8 L178.0,190.6 L178.5,192.5 L179.0,194.2 L179.5,196.0 L180.0,197.6 L180.5,199.3 L181.0,200.9 L181.5,202.4 L182.0,204.0 L182.5,205.5 L183.0,207.0 L183.5,208.5 L184.0,209.9 L184.5,211.4 L185.0,212.8 L185.5,214.2 L186.0,215.6 L186.5,217.0 L187.0,218.5 L187.5,219.9 L188.0,221.3 L188.5,222.7 L189.0,224.2 L189.5,225.6 L190.0,227.0 L190.5,228.4 L191.0,229.8 L191.5,231.2 L192.0,232.6 L192.5,234.0 L193.0,235.4 L193.5,236.8 L194.0,238.1 L194.5,239.5 L195.0,240.8 L195.5,242.1 L196.0,243.4 L196.5,244.7 L197.0,245.9 L197.5,247.2 L198.0,248.4 L198.5,249.7 L199.0,251.0 L199.5,252.2 L200.0,253.4 L200.5,254.6 L201.0,255.8 L201.5,257.0 L202.0,258.2 L202.5,259.3 L203.0,260.4 L203.5,261.4 L204.0,262.4 L204.5,263.4 L205.0,264.4 L205.5,265.3 L206.0,266.2 L206.5,267.1 L207.0,267.9 L207.5,268.8 L208.0,269.6 L208.5,270.4 L209.0,271.2 L209.5,272.0 L210.0,272.7 L210.5,273.5 L211.0,274.2 L211.5,274.9 L212.0,275.6 L212.5,276.3 L213.0,277.0 L213.5,277.7 L214.0,278.3 L214.5,279.0 L215.0,279.6 L215.5,280.3 L216.0,280.9 L216.5,281.5 L217.0,282.2 L217.5,282.8 L218.0,283.4 L218.5,283.9 L219.0,284.5 L219.5,285.1 L220.0,285.6 L220.5,286.1 L221.0,286.7 L221.5,287.1 L222.0,287.6 L222.5,288.1 L223.0,288.5 L223.5,289.0 L224.0,289.4 L224.5,289.7 L225.0,290.1 L225.5,290.5 L226.0,290.8 L226.5,291.2 L227.0,291.5 L227.5,291.9 L228.0,292.2 L228.5,292.6 L229.0,292.9 L229.5,293.3 L230.0,293.7 L230.5,294.1 L231.0,294.6 L231.5,295.0 L232.0,295.5 L232.5,296.0 L233.0,296.5 L233.5,297.1 L234.0,297.6 L234.5,298.1 L235.0,298.7 L235.5,299.2 L236.0,299.8 L236.5,300.3 L237.0,300.8 L237.5,301.3 L238.0,301.7 L238.5,302.2 L239.0,302.6 L239.5,302.9 L240.0,303.3 L240.5,303.6 L241.0,303.9 L241.5,304.2 L242.0,304.5 L242.5,304.8 L243.0,305.1 L243.5,305.3 L244.0,305.6 L244.5,305.8 L245.0,306.1 L245.5,306.4 L246.0,306.6 L246.5,306.9 L247.0,307.2 L247.5,307.5 L248.0,307.8 L248.5,308.1 L249.0,308.5 L249.5,308.8 L250.0,309.2 L250.5,309.6 L251.0,310.0 L251.5,310.4 L252.0,310.8 L252.5,311.1 L253.0,311.5 L253.5,311.9 L254.0,312.3 L254.5,312.6 L255.0,312.9 L255.5,313.3 L256.0,313.5 L256.5,313.8 L257.0,314.0 L257.5,314.3 L258.0,314.5 L258.5,314.7 L259.0,314.9 L259.5,315.2 L260.0,315.4 L260.5,315.6 L261.0,315.8 L261.5,315.9 L262.0,316.1 L262.5,316.3 L263.0,316.4 L263.5,316.6 L264.0,316.7 L264.5,316.9 L265.0,317.0 L265.5,317.1 L266.0,317.2 L266.5,317.3 L267.0,317.4 L267.5,317.5 L268.0,317.6 L268.5,317.6 L269.0,317.7 L269.5,317.8 L270.0,317.9 L270.5,317.9 L271.0,318.0 L271.5,318.1 L272.0,318.2 L272.5,318.3 L273.0,318.4 L273.5,318.5 L274.0,318.6 L274.5,318.7 L275.0,318.8 L275.5,319.0 L276.0,319.1 L276.5,319.3 L277.0,319.4 L277.5,319.6 L278.0,319.7 L278.5,319.9 L279.0,320.0 L279.5,320.2 L280.0,320.3 L280.5,320.5 L281.0,320.7 L281.5,320.8 L282.0,321.0 L282.5,321.1 L283.0,321.2 L283.5,321.4 L284.0,321.5 L284.5,321.7 L285.0,321.8 L285.5,322.0 L286.0,322.1 L286.5,322.3 L287.0,322.4 L287.5,322.6 L288.0,322.7 L288.5,322.9 L289.0,323.0 L289.5,323.1 L290.0,323.3 L290.5,323.4 L291.0,323.6 L291.5,323.7 L292.0,323.9 L292.5,324.1 L293.0,324.2 L293.5,324.4 L294.0,324.6 L294.5,324.7 L295.0,324.9 L295.5,325.1 L296.0,325.2 L296.5,325.4 L297.0,325.5 L297.5,325.6 L298.0,325.7 L298.5,325.9 L299.0,326.0 L299.5,326.0 L300.0,326.1 L300.5,326.2 L301.0,326.3 L301.5,326.3 L302.0,326.4 L302.5,326.5 L303.0,326.5 L303.5,326.6 L304.0,326.6 L304.5,326.7 L305.0,326.8 L305.5,326.8 L306.0,326.8 L306.5,326.9 L307.0,326.9 L307.5,327.0 L308.0,327.0 L308.5,327.1 L309.0,327.1 L309.5,327.1 L310.0,327.1 L310.5,327.2 L311.0,327.2 L311.5,327.2 L312.0,327.2 L312.5,327.3 L313.0,327.3 L313.5,327.3 L314.0,327.3 L314.5,327.4 L315.0,327.4 L315.5,327.4 L316.0,327.5 L316.5,327.5 L317.0,327.6 L317.5,327.6 L318.0,327.7 L318.5,327.8 L319.0,327.9 L319.5,327.9 L320.0,328.0 L320.5,328.1 L321.0,328.2 L321.5,328.3 L322.0,328.4 L322.5,328.5 L323.0,328.6 L323.5,328.7 L324.0,328.8 L324.5,328.9 L325.0,329.0 L325.5,329.1 L326.0,329.2 L326.5,329.3 L327.0,329.4 L327.5,329.6 L328.0,329.7 L328.5,329.8 L329.0,329.9 L329.5,330.0 L330.0,330.1 L330.5,330.2 L331.0,330.3 L331.5,330.4 L332.0,330.4 L332.5,330.5 L333.0,330.5 L333.5,330.5 L334.0,330.5 L334.5,330.5 L335.0,330.5 L335.5,330.5 L336.0,330.5 L336.5,330.5 L337.0,330.5 L337.5,330.5 L338.0,330.5 L338.5,330.5 L339.0,330.5 L339.5,330.5 L340.0,330.5 L340.5,330.5 L341.0,330.5 L341.5,330.5 L342.0,330.5 L342.5,330.5 L343.0,330.5 L343.5,330.6 L344.0,330.7 L344.5,330.8 L345.0,330.9 L345.5,331.0 L346.0,331.1 L346.5,331.2 L347.0,331.4 L347.5,331.5 L348.0,331.6 L348.5,331.7 L349.0,331.8 L349.5,331.9 L350.0,331.9 L350.5,332.0 L351.0,332.0 L351.5,332.1 L352.0,332.1 L352.5,332.1 L353.0,332.1 L353.5,332.2 L354.0,332.2 L354.5,332.2 L355.0,332.2 L355.5,332.2 L356.0,332.2 L356.5,332.3 L357.0,332.3 L357.5,332.3 L358.0,332.3 L358.5,332.3 L359.0,332.4 L359.5,332.4 L360.0,332.4 L360.5,332.4 L361.0,332.5 L361.5,332.5 L362.0,332.5 L362.5,332.5 L363.0,332.6 L363.5,332.6 L364.0,332.6 L364.5,332.6 L365.0,332.7 L365.5,332.7 L366.0,332.7 L366.5,332.8 L367.0,332.8 L367.5,332.8 L368.0,332.8 L368.5,332.9 L369.0,332.9 L369.5,332.9 L370.0,332.9 L370.5,333.0 L371.0,333.0 L371.5,333.0 L372.0,333.0 L372.5,333.1 L373.0,333.1 L373.5,333.1 L374.0,333.1 L374.5,333.2 L375.0,333.2 L375.5,333.2 L376.0,333.2 L376.5,333.2 L377.0,333.3 L377.5,333.3 L378.0,333.3 L378.5,333.3 L379.0,333.3 L379.5,333.3 L380.0,333.3 L380.5,333.4 L381.0,333.4 L381.5,333.4 L382.0,333.4 L382.5,333.4 L383.0,333.4 L383.5,333.4 L384.0,333.5 L384.5,333.5 L385.0,333.5 L385.5,333.5 L386.0,333.5 L386.5,333.5 L387.0,333.5 L387.5,333.6 L388.0,333.6 L388.5,333.6 L389.0,333.6 L389.5,333.6 L390.0,333.6 L390.5,333.6 L391.0,333.6 L391.5,333.7 L392.0,333.7 L392.5,333.7 L393.0,333.7 L393.5,333.7 L394.0,333.7 L394.5,333.7 L395.0,333.8 L395.5,333.8 L396.0,333.8 L396.5,333.8 L397.0,333.8 L397.5,333.8 L398.0,333.8 L398.5,333.9 L399.0,333.9 L399.5,333.9 L400.0,333.9 L400.5,333.9 L401.0,333.9 L401.5,333.9 L402.0,333.9 L402.5,334.0 L403.0,334.0 L403.5,334.0 L404.0,334.0 L404.5,334.0 L405.0,334.0 L405.5,334.0 L406.0,334.0 L406.5,334.0 L407.0,334.0 L407.5,334.1 L408.0,334.1 L408.5,334.1 L409.0,334.1 L409.5,334.1 L410.0,334.1 L410.5,334.1 L411.0,334.1 L411.5,334.1 L412.0,334.1 L412.5,334.2 L413.0,334.2 L413.5,334.2 L414.0,334.2 L414.5,334.2 L415.0,334.2 L415.5,334.2 L416.0,334.2 L416.5,334.2 L417.0,334.2 L417.5,334.3 L418.0,334.3 L418.5,334.3 L419.0,334.3 L419.5,334.3 L420.0,334.3 L420.5,334.3 L421.0,334.3 L421.5,334.3 L422.0,334.3 L422.5,334.3 L423.0,334.3 L423.5,334.4 L424.0,334.4 L424.5,334.4 L425.0,334.4 L425.5,334.4 L426.0,334.4 L426.5,334.4 L427.0,334.4 L427.5,334.4 L428.0,334.4 L428.5,334.4 L429.0,334.4 L429.5,334.4 L430.0,334.5 L430.5,334.5 L431.0,334.5 L431.5,334.5 L432.0,334.5 L432.5,334.5 L433.0,334.5 L433.5,334.5 L434.0,334.5 L434.5,334.5 L435.0,334.5 L435.5,334.5 L436.0,334.5 L436.5,334.5 L437.0,334.4 L437.5,334.2 L438.0,333.9 L438.5,333.6 L439.0,333.3 L439.5,332.9 L440.0,332.5 L440.5,332.1 L441.0,331.7 L441.5,331.4 L442.0,331.0 L442.5,330.7 L443.0,330.4 L443.5,330.2 L444.0,330.1 L444.5,330.0 L445.0,330.0 L445.5,330.1 L446.0,330.1 L446.5,330.2 L447.0,330.3 L447.5,330.5 L448.0,330.6 L448.5,330.8 L449.0,330.9 L449.5,331.1 L450.0,331.3 L450.5,331.4 L451.0,331.6 L451.5,331.7 L452.0,331.8 L452.5,331.9 L453.0,332.0 L453.5,332.0 L454.0,332.1 L454.5,332.1 L455.0,332.1 L455.5,332.2 L456.0,332.2 L456.5,332.2 L457.0,332.2 L457.5,332.3 L458.0,332.3 L458.5,332.3 L459.0,332.3 L459.5,332.3 L460.0,332.4 L460.5,332.4 L461.0,332.4 L461.5,332.5 L462.0,332.5 L462.5,332.6 L463.0,332.7 L463.5,332.8 L464.0,333.0 L464.5,333.1 L465.0,333.3 L465.5,333.5 L466.0,333.7 L466.5,333.8 L467.0,334.0 L467.5,334.1 L468.0,334.3 L468.5,334.4 L469.0,334.5 L469.5,334.6 L470.0,334.6 L470.5,334.6 L471.0,334.6 L471.5,334.6 L472.0,334.6 L472.5,334.6 L473.0,334.6 L473.5,334.6 L474.0,334.6 L474.5,334.6 L475.0,334.6 L475.5,334.6 L476.0,334.6 L476.5,334.6 L477.0,334.6 L477.5,334.6 L478.0,334.6 L478.5,334.6 L479.0,334.6 L479.5,334.6 L480.0,334.5 L480.5,334.5 L481.0,334.4 L481.5,334.3 L482.0,334.2 L482.5,334.1 L483.0,334.0 L483.5,333.9 L484.0,333.8 L484.5,333.7 L485.0,333.6 L485.5,333.5 L486.0,333.5 L486.5,333.4 L487.0,333.4 L487.5,333.4 L488.0,333.4 L488.5,333.5 L489.0,333.5 L489.5,333.6 L490.0,333.7 L490.5,333.8 L491.0,333.9 L491.5,334.0 L492.0,334.1 L492.5,334.2 L493.0,334.3 L493.5,334.4 L494.0,334.4 L494.5,334.5 L495.0,334.6 L495.5,334.6 L496.0,334.6 L496.5,334.6 L497.0,334.6 L497.5,334.6 L498.0,334.6 L498.5,334.6 L499.0,334.6 L499.5,334.6 L500.0,334.6 L500.5,334.6 L501.0,334.6 L501.5,334.6 L502.0,334.6 L502.5,334.6 L503.0,334.6 L503.5,334.6 L504.0,334.6 L504.5,334.6 L505.0,334.6 L505.5,334.6 L506.0,334.5 L506.5,334.5 L507.0,334.5 L507.5,334.4 L508.0,334.3 L508.5,334.3 L509.0,334.2 L509.5,334.1 L510.0,334.0 L510.5,333.9 L511.0,333.8 L511.5,333.7 L512.0,333.6 L512.5,333.5 L513.0,333.4" fill="none" stroke="#000" stroke-width="1.75" stroke-linejoin="round"/>
<circle cx="84.5" cy="335.6" r="3.4" fill="#000"/>
<circle cx="93.0" cy="335.6" r="3.4" fill="#000"/>
<circle cx="101.5" cy="335.2" r="3.4" fill="#000"/>
<circle cx="110.0" cy="334.6" r="3.4" fill="#000"/>
<circle cx="119.5" cy="329.5" r="3.4" fill="#000"/>
<circle cx="128.0" cy="292.3" r="3.4" fill="#000"/>
<circle cx="137.1" cy="207.5" r="3.4" fill="#000"/>
<circle cx="146.2" cy="130.0" r="3.4" fill="#000"/>
<circle cx="153.6" cy="110.6" r="3.4" fill="#000"/>
<circle cx="163.8" cy="131.9" r="3.4" fill="#000"/>
<circle cx="171.8" cy="166.0" r="3.4" fill="#000"/>
<circle cx="179.6" cy="196.3" r="3.4" fill="#000"/>
<circle cx="188.0" cy="221.3" r="3.4" fill="#000"/>
<circle cx="196.4" cy="244.4" r="3.4" fill="#000"/>
<circle cx="204.8" cy="264.0" r="3.4" fill="#000"/>
<circle cx="213.9" cy="278.2" r="3.4" fill="#000"/>
<circle cx="222.4" cy="288.0" r="3.4" fill="#000"/>
<circle cx="230.7" cy="294.3" r="3.4" fill="#000"/>
<circle cx="239.3" cy="302.8" r="3.4" fill="#000"/>
<circle cx="248.0" cy="307.8" r="3.4" fill="#000"/>
<path d="M86.0,334.2 L86.5,334.2 L87.0,334.3 L87.5,334.3 L88.0,334.4 L88.5,334.4 L89.0,334.4 L89.5,334.5 L90.0,334.5 L90.5,334.5 L91.0,334.5 L91.5,334.6 L92.0,334.6 L92.5,334.6 L93.0,334.6 L93.5,334.6 L94.0,334.6 L94.5,334.6 L95.0,334.6 L95.5,334.6 L96.0,334.6 L96.5,334.5 L97.0,334.5 L97.5,334.5 L98.0,334.5 L98.5,334.4 L99.0,334.4 L99.5,334.4 L100.0,334.3 L100.5,334.3 L101.0,334.3 L101.5,334.2 L102.0,334.2 L102.5,334.2 L103.0,334.1 L103.5,334.1 L104.0,334.1 L104.5,334.0 L105.0,334.0 L105.5,333.9 L106.0,333.9 L106.5,333.8 L107.0,333.8 L107.5,333.7 L108.0,333.7 L108.5,333.6 L109.0,333.5 L109.5,333.4 L110.0,333.3 L110.5,333.3 L111.0,333.2 L111.5,333.0 L112.0,332.9 L112.5,332.7 L113.0,332.5 L113.5,332.3 L114.0,332.0 L114.5,331.7 L115.0,331.4 L115.5,331.0 L116.0,330.6 L116.5,330.2 L117.0,329.7 L117.5,329.2 L118.0,328.6 L118.5,328.0 L119.0,327.4 L119.5,326.7 L120.0,326.0 L120.5,325.1 L121.0,323.6 L121.5,321.4 L122.0,318.7 L122.5,315.4 L123.0,311.7 L123.5,307.8 L124.0,303.6 L124.5,299.3 L125.0,295.0 L125.5,290.3 L126.0,284.9 L126.5,279.0 L127.0,272.7 L127.5,266.1 L128.0,259.5 L128.5,253.0 L129.0,246.7 L129.5,240.6 L130.0,234.5 L130.5,228.3 L131.0,222.2 L131.5,215.9 L132.0,209.4 L132.5,202.7 L133.0,195.8 L133.5,188.5 L134.0,180.6 L134.5,172.3 L135.0,163.7 L135.5,155.0 L136.0,146.7 L136.5,138.2 L137.0,129.8 L137.5,121.9 L138.0,114.2 L138.5,106.6 L139.0,99.7 L139.5,93.9 L140.0,88.7 L140.5,83.9 L141.0,79.6 L141.5,76.0 L142.0,73.3 L142.5,70.9 L143.0,68.7 L143.5,66.6 L144.0,64.8 L144.5,63.4 L145.0,62.4 L145.5,62.0 L146.0,62.2 L146.5,62.8 L147.0,63.9 L147.5,65.4 L148.0,67.0 L148.5,68.8 L149.0,70.7 L149.5,72.6 L150.0,74.3 L150.5,76.0 L151.0,77.6 L151.5,79.3 L152.0,81.0 L152.5,82.8 L153.0,84.6 L153.5,86.5 L154.0,88.5 L154.5,90.6 L155.0,92.7 L155.5,95.0 L156.0,97.5 L156.5,100.0 L157.0,102.6 L157.5,105.3 L158.0,108.1 L158.5,110.9 L159.0,113.7 L159.5,116.6 L160.0,119.4 L160.5,122.3 L161.0,125.1 L161.5,127.8 L162.0,130.6 L162.5,133.2 L163.0,135.8 L163.5,138.2 L164.0,140.7 L164.5,143.2 L165.0,145.6 L165.5,148.0 L166.0,150.5 L166.5,152.9 L167.0,155.2 L167.5,157.6 L168.0,159.9 L168.5,162.2 L169.0,164.5 L169.5,166.7 L170.0,169.0 L170.5,171.1 L171.0,173.3 L171.5,175.4 L172.0,177.5 L172.5,179.6 L173.0,181.7 L173.5,183.8 L174.0,185.8 L174.5,187.9 L175.0,189.9 L175.5,191.9 L176.0,193.9 L176.5,195.8 L177.0,197.7 L177.5,199.5 L178.0,201.2 L178.5,202.9 L179.0,204.6 L179.5,206.1 L180.0,207.6 L180.5,209.0 L181.0,210.3 L181.5,211.6 L182.0,212.9 L182.5,214.1 L183.0,215.3 L183.5,216.4 L184.0,217.6 L184.5,218.7 L185.0,219.8 L185.5,220.9 L186.0,222.0 L186.5,223.1 L187.0,224.2 L187.5,225.4 L188.0,226.5 L188.5,227.7 L189.0,228.9 L189.5,230.1 L190.0,231.3 L190.5,232.6 L191.0,233.8 L191.5,235.0 L192.0,236.2 L192.5,237.5 L193.0,238.7 L193.5,239.9 L194.0,241.1 L194.5,242.3 L195.0,243.4 L195.5,244.6 L196.0,245.7 L196.5,246.8 L197.0,247.9 L197.5,249.0 L198.0,250.1 L198.5,251.2 L199.0,252.3 L199.5,253.3 L200.0,254.4 L200.5,255.4 L201.0,256.5 L201.5,257.5 L202.0,258.5 L202.5,259.5 L203.0,260.5 L203.5,261.4 L204.0,262.4 L204.5,263.3 L205.0,264.2 L205.5,265.0 L206.0,265.9 L206.5,266.7 L207.0,267.5 L207.5,268.4 L208.0,269.2 L208.5,269.9 L209.0,270.7 L209.5,271.5 L210.0,272.2 L210.5,273.0 L211.0,273.7 L211.5,274.4 L212.0,275.1 L212.5,275.8 L213.0,276.5 L213.5,277.1 L214.0,277.8 L214.5,278.4 L215.0,279.0 L215.5,279.6 L216.0,280.2 L216.5,280.8 L217.0,281.4 L217.5,282.0 L218.0,282.6 L218.5,283.1 L219.0,283.7 L219.5,284.2 L220.0,284.7 L220.5,285.2 L221.0,285.7 L221.5,286.2 L222.0,286.6 L222.5,287.1 L223.0,287.5 L223.5,287.9 L224.0,288.3 L224.5,288.7 L225.0,289.0 L225.5,289.4 L226.0,289.7 L226.5,290.0 L227.0,290.4 L227.5,290.7 L228.0,291.0 L228.5,291.4 L229.0,291.7 L229.5,292.1 L230.0,292.5 L230.5,292.9 L231.0,293.4 L231.5,293.8 L232.0,294.3 L232.5,294.9 L233.0,295.4 L233.5,296.0 L234.0,296.5 L234.5,297.1 L235.0,297.7 L235.5,298.3 L236.0,298.8 L236.5,299.4 L237.0,299.9 L237.5,300.4 L238.0,300.9 L238.5,301.4 L239.0,301.8 L239.5,302.1 L240.0,302.5 L240.5,302.8 L241.0,303.1 L241.5,303.4 L242.0,303.7 L242.5,304.0 L243.0,304.2 L243.5,304.5 L244.0,304.8 L244.5,305.0 L245.0,305.3 L245.5,305.5 L246.0,305.8 L246.5,306.1 L247.0,306.3 L247.5,306.6 L248.0,306.9 L248.5,307.3 L249.0,307.6 L249.5,308.0 L250.0,308.4 L250.5,308.9 L251.0,309.3 L251.5,309.7 L252.0,310.2 L252.5,310.6 L253.0,311.0 L253.5,311.4 L254.0,311.8 L254.5,312.2 L255.0,312.5 L255.5,312.8 L256.0,313.0 L256.5,313.2 L257.0,313.4 L257.5,313.5 L258.0,313.6 L258.5,313.8 L259.0,313.9 L259.5,314.0 L260.0,314.1 L260.5,314.2 L261.0,314.3 L261.5,314.4 L262.0,314.5 L262.5,314.6 L263.0,314.7 L263.5,314.8 L264.0,314.8 L264.5,314.9 L265.0,315.0 L265.5,315.1 L266.0,315.1 L266.5,315.2 L267.0,315.2 L267.5,315.3 L268.0,315.3 L268.5,315.4 L269.0,315.4 L269.5,315.5 L270.0,315.5 L270.5,315.6 L271.0,315.6 L271.5,315.7 L272.0,315.7 L272.5,315.8 L273.0,315.9 L273.5,316.0 L274.0,316.1 L274.5,316.2 L275.0,316.4 L275.5,316.6 L276.0,316.8 L276.5,317.0 L277.0,317.3 L277.5,317.6 L278.0,317.8 L278.5,318.1 L279.0,318.4 L279.5,318.7 L280.0,319.0 L280.5,319.2 L281.0,319.5 L281.5,319.7 L282.0,319.9 L282.5,320.1 L283.0,320.3 L283.5,320.5 L284.0,320.7 L284.5,320.9 L285.0,321.1 L285.5,321.3 L286.0,321.5 L286.5,321.7 L287.0,321.9 L287.5,322.0 L288.0,322.2 L288.5,322.4 L289.0,322.5 L289.5,322.7 L290.0,322.8 L290.5,322.9 L291.0,323.1 L291.5,323.2 L292.0,323.3 L292.5,323.5 L293.0,323.6 L293.5,323.7 L294.0,323.8 L294.5,323.9 L295.0,324.0 L295.5,324.1 L296.0,324.2 L296.5,324.3 L297.0,324.4 L297.5,324.5 L298.0,324.6 L298.5,324.7 L299.0,324.8 L299.5,324.8 L300.0,324.9 L300.5,325.0 L301.0,325.1 L301.5,325.2 L302.0,325.2 L302.5,325.3 L303.0,325.4 L303.5,325.5 L304.0,325.5 L304.5,325.6 L305.0,325.6 L305.5,325.7 L306.0,325.7 L306.5,325.8 L307.0,325.8 L307.5,325.8 L308.0,325.8 L308.5,325.8 L309.0,325.8 L309.5,325.8 L310.0,325.7 L310.5,325.7 L311.0,325.7 L311.5,325.6 L312.0,325.6 L312.5,325.6 L313.0,325.5 L313.5,325.5 L314.0,325.5 L314.5,325.4 L315.0,325.4 L315.5,325.4 L316.0,325.4 L316.5,325.4 L317.0,325.4 L317.5,325.5 L318.0,325.6 L318.5,325.7 L319.0,325.8 L319.5,325.9 L320.0,326.1 L320.5,326.3 L321.0,326.4 L321.5,326.6 L322.0,326.8 L322.5,327.0 L323.0,327.1 L323.5,327.3 L324.0,327.5 L324.5,327.6 L325.0,327.7 L325.5,327.8 L326.0,328.0 L326.5,328.1 L327.0,328.2 L327.5,328.3 L328.0,328.5 L328.5,328.6 L329.0,328.7 L329.5,328.8 L330.0,328.9 L330.5,329.0 L331.0,329.1 L331.5,329.2 L332.0,329.3 L332.5,329.4 L333.0,329.5 L333.5,329.5 L334.0,329.5 L334.5,329.6 L335.0,329.6 L335.5,329.6 L336.0,329.7 L336.5,329.7 L337.0,329.7 L337.5,329.7 L338.0,329.7 L338.5,329.8 L339.0,329.8 L339.5,329.8 L340.0,329.8 L340.5,329.9 L341.0,329.9 L341.5,330.0 L342.0,330.0 L342.5,330.1 L343.0,330.2 L343.5,330.4 L344.0,330.6 L344.5,330.9 L345.0,331.1 L345.5,331.4 L346.0,331.7 L346.5,332.0 L347.0,332.3 L347.5,332.6 L348.0,332.9 L348.5,333.1 L349.0,333.3 L349.5,333.5 L350.0,333.6 L350.5,333.6 L351.0,333.6 L351.5,333.5 L352.0,333.4 L352.5,333.3 L353.0,333.1 L353.5,332.9 L354.0,332.7 L354.5,332.4 L355.0,332.2 L355.5,332.0 L356.0,331.8 L356.5,331.6 L357.0,331.4 L357.5,331.2 L358.0,331.1 L358.5,331.0 L359.0,331.0 L359.5,331.0 L360.0,331.0 L360.5,331.1 L361.0,331.1 L361.5,331.2 L362.0,331.2 L362.5,331.3 L363.0,331.4 L363.5,331.4 L364.0,331.5 L364.5,331.6 L365.0,331.7 L365.5,331.7 L366.0,331.8 L366.5,331.9 L367.0,331.9 L367.5,332.0 L368.0,332.0 L368.5,332.1 L369.0,332.1 L369.5,332.1 L370.0,332.2 L370.5,332.2 L371.0,332.3 L371.5,332.3 L372.0,332.3 L372.5,332.4 L373.0,332.4 L373.5,332.4 L374.0,332.5 L374.5,332.5 L375.0,332.5 L375.5,332.5 L376.0,332.5 L376.5,332.5 L377.0,332.5 L377.5,332.4 L378.0,332.3 L378.5,332.2 L379.0,332.1 L379.5,332.0 L380.0,331.9 L380.5,331.7 L381.0,331.6 L381.5,331.5 L382.0,331.4 L382.5,331.3 L383.0,331.2 L383.5,331.1 L384.0,331.0 L384.5,331.0 L385.0,331.0 L385.5,331.0 L386.0,331.0 L386.5,331.0 L387.0,331.0 L387.5,331.0 L388.0,331.0 L388.5,331.0 L389.0,331.0 L389.5,331.0 L390.0,331.0 L390.5,331.0 L391.0,331.0 L391.5,331.0 L392.0,331.0 L392.5,331.0 L393.0,331.0 L393.5,331.0 L394.0,331.0 L394.5,331.1 L395.0,331.2 L395.5,331.2 L396.0,331.4 L396.5,331.5 L397.0,331.6 L397.5,331.7 L398.0,331.9 L398.5,332.0 L399.0,332.1 L399.5,332.2 L400.0,332.3 L400.5,332.4 L401.0,332.5 L401.5,332.5 L402.0,332.5 L402.5,332.5 L403.0,332.5 L403.5,332.5 L404.0,332.5 L404.5,332.5 L405.0,332.5 L405.5,332.5 L406.0,332.5 L406.5,332.5 L407.0,332.5 L407.5,332.5 L408.0,332.5 L408.5,332.5 L409.0,332.5 L409.5,332.5 L410.0,332.5 L410.5,332.5 L411.0,332.5 L411.5,332.5 L412.0,332.4 L412.5,332.4 L413.0,332.3 L413.5,332.2 L414.0,332.1 L414.5,332.0 L415.0,331.9 L415.5,331.8 L416.0,331.7 L416.5,331.6 L417.0,331.5 L417.5,331.3 L418.0,331.2 L418.5,331.1 L419.0,331.0 L419.5,330.9 L420.0,330.7 L420.5,330.6 L421.0,330.4 L421.5,330.2 L422.0,330.0 L422.5,329.8 L423.0,329.6 L423.5,329.4 L424.0,329.2 L424.5,329.1 L425.0,328.9 L425.5,328.8 L426.0,328.7 L426.5,328.6 L427.0,328.5 L427.5,328.5 L428.0,328.5 L428.5,328.6 L429.0,328.8 L429.5,329.0 L430.0,329.3 L430.5,329.6 L431.0,329.9 L431.5,330.3 L432.0,330.6 L432.5,331.0 L433.0,331.3 L433.5,331.7 L434.0,332.0 L434.5,332.3 L435.0,332.6 L435.5,332.8 L436.0,333.0 L436.5,333.1 L437.0,333.3 L437.5,333.4 L438.0,333.5 L438.5,333.7 L439.0,333.8 L439.5,333.9 L440.0,334.0 L440.5,334.1 L441.0,334.2 L441.5,334.3 L442.0,334.4 L442.5,334.5 L443.0,334.5 L443.5,334.6 L444.0,334.6 L444.5,334.6 L445.0,334.6 L445.5,334.5 L446.0,334.3 L446.5,334.1 L447.0,333.8 L447.5,333.5 L448.0,333.2 L448.5,332.8 L449.0,332.5 L449.5,332.1 L450.0,331.8 L450.5,331.4 L451.0,331.1 L451.5,330.9 L452.0,330.7 L452.5,330.6 L453.0,330.5 L453.5,330.5 L454.0,330.5 L454.5,330.6 L455.0,330.6 L455.5,330.7 L456.0,330.7 L456.5,330.8 L457.0,330.9 L457.5,331.0 L458.0,331.1 L458.5,331.2 L459.0,331.4 L459.5,331.5 L460.0,331.6 L460.5,331.7 L461.0,331.8 L461.5,332.0 L462.0,332.1 L462.5,332.2 L463.0,332.4 L463.5,332.5 L464.0,332.7 L464.5,332.9 L465.0,333.1 L465.5,333.3 L466.0,333.5 L466.5,333.7 L467.0,333.9 L467.5,334.1 L468.0,334.3 L468.5,334.4 L469.0,334.5 L469.5,334.6 L470.0,334.6 L470.5,334.6 L471.0,334.6 L471.5,334.6 L472.0,334.6 L472.5,334.6 L473.0,334.6 L473.5,334.6 L474.0,334.6 L474.5,334.6 L475.0,334.6 L475.5,334.6 L476.0,334.6 L476.5,334.6 L477.0,334.6 L477.5,334.6 L478.0,334.6 L478.5,334.6 L479.0,334.6 L479.5,334.6 L480.0,334.6 L480.5,334.6 L481.0,334.6 L481.5,334.6 L482.0,334.6 L482.5,334.6 L483.0,334.6 L483.5,334.6 L484.0,334.6 L484.5,334.6 L485.0,334.6 L485.5,334.6 L486.0,334.6 L486.5,334.6 L487.0,334.6 L487.5,334.6 L488.0,334.6 L488.5,334.5 L489.0,334.5 L489.5,334.4 L490.0,334.3 L490.5,334.2 L491.0,334.1 L491.5,334.0 L492.0,333.8 L492.5,333.7 L493.0,333.6 L493.5,333.4 L494.0,333.3 L494.5,333.2 L495.0,333.0 L495.5,332.9 L496.0,332.8 L496.5,332.7 L497.0,332.6 L497.5,332.6 L498.0,332.5 L498.5,332.5 L499.0,332.5 L499.5,332.6 L500.0,332.7 L500.5,333.0 L501.0,333.2 L501.5,333.5 L502.0,333.8 L502.5,334.0 L503.0,334.3 L503.5,334.4 L504.0,334.6 L504.5,334.6 L505.0,334.6 L505.5,334.6 L506.0,334.6 L506.5,334.6 L507.0,334.6 L507.5,334.6 L508.0,334.6 L508.5,334.6 L509.0,334.6 L509.5,334.6 L510.0,334.6 L510.5,334.6 L511.0,334.6 L511.5,334.6 L512.0,334.6 L512.5,334.6 L513.0,334.6" fill="none" stroke="#000" stroke-width="1.75" stroke-linejoin="round"/>
<polygon points="86.0,330.2 90.2,337.9 81.8,337.9" fill="#000"/>
<polygon points="93.8,330.7 98.0,338.3 89.6,338.3" fill="#000"/>
<polygon points="102.0,330.2 106.2,337.9 97.8,337.9" fill="#000"/>
<polygon points="110.8,329.2 115.0,336.9 106.6,336.9" fill="#000"/>
<polygon points="120.3,321.6 124.5,329.2 116.1,329.2" fill="#000"/>
<polygon points="128.8,245.2 133.0,252.8 124.6,252.8" fill="#000"/>
<polygon points="137.5,118.0 141.7,125.5 133.3,125.5" fill="#000"/>
<polygon points="145.6,58.1 149.8,65.6 141.4,65.6" fill="#000"/>
<polygon points="154.6,87.0 158.8,94.6 150.4,94.6" fill="#000"/>
<polygon points="163.1,132.3 167.3,139.9 158.9,139.9" fill="#000"/>
<polygon points="171.5,171.4 175.7,179.1 167.3,179.1" fill="#000"/>
<polygon points="179.8,203.0 184.0,210.7 175.6,210.7" fill="#000"/>
<polygon points="188.2,223.0 192.4,230.7 184.0,230.7" fill="#000"/>
<polygon points="196.8,243.5 201.0,251.2 192.6,251.2" fill="#000"/>
<polygon points="205.2,260.6 209.4,268.2 201.0,268.2" fill="#000"/>
<polygon points="213.8,273.6 218.0,281.2 209.6,281.2" fill="#000"/>
<polygon points="222.4,283.1 226.6,290.7 218.2,290.7" fill="#000"/>
<polygon points="230.6,289.1 234.8,296.7 226.4,296.7" fill="#000"/>
<polygon points="239.3,298.1 243.5,305.7 235.1,305.7" fill="#000"/>
<polygon points="248.1,303.1 252.3,310.7 243.9,310.7" fill="#000"/>
<circle cx="256.5" cy="319.5" r="3.1" fill="#fff" stroke="#000" stroke-width="1.1"/>
<circle cx="256.5" cy="313.8" r="3.4" fill="#000"/>
<polygon points="256.5,312.9 260.0,319.1 253.0,319.1" fill="#fff" stroke="#000" stroke-width="1.0" stroke-linejoin="miter"/>
<polygon points="256.5,309.2 260.7,316.9 252.3,316.9" fill="#000"/>
<circle cx="265.1" cy="320.5" r="3.1" fill="#fff" stroke="#000" stroke-width="1.1"/>
<circle cx="265.1" cy="317.0" r="3.4" fill="#000"/>
<polygon points="265.1,314.4 268.6,320.6 261.6,320.6" fill="#fff" stroke="#000" stroke-width="1.0" stroke-linejoin="miter"/>
<polygon points="265.1,311.1 269.2,318.7 260.9,318.7" fill="#000"/>
<circle cx="273.6" cy="321.0" r="3.1" fill="#fff" stroke="#000" stroke-width="1.1"/>
<circle cx="273.6" cy="318.5" r="3.4" fill="#000"/>
<polygon points="273.6,315.9 277.1,322.1 270.1,322.1" fill="#fff" stroke="#000" stroke-width="1.0" stroke-linejoin="miter"/>
<polygon points="273.6,312.1 277.8,319.7 269.4,319.7" fill="#000"/>
<circle cx="282.1" cy="324.0" r="3.1" fill="#fff" stroke="#000" stroke-width="1.1"/>
<circle cx="282.1" cy="321.0" r="3.4" fill="#000"/>
<polygon points="282.1,318.4 285.6,324.6 278.6,324.6" fill="#fff" stroke="#000" stroke-width="1.0" stroke-linejoin="miter"/>
<polygon points="282.1,316.1 286.3,323.7 277.9,323.7" fill="#000"/>
<circle cx="290.7" cy="323.5" r="3.4" fill="#000"/>
<polygon points="290.7,319.1 294.9,326.7 286.5,326.7" fill="#000"/>
<polygon points="290.7,318.9 294.2,325.1 287.2,325.1" fill="#fff" stroke="#000" stroke-width="1.0" stroke-linejoin="miter"/>
<circle cx="299.2" cy="329.5" r="3.1" fill="#fff" stroke="#000" stroke-width="1.1"/>
<circle cx="299.2" cy="326.0" r="3.4" fill="#000"/>
<polygon points="299.2,320.9 303.4,328.5 295.1,328.5" fill="#000"/>
<circle cx="307.8" cy="327.0" r="3.4" fill="#000"/>
<polygon points="307.8,321.9 312.0,329.5 303.6,329.5" fill="#000"/>
<circle cx="316.4" cy="327.5" r="3.4" fill="#000"/>
<polygon points="316.4,321.4 320.6,329.1 312.2,329.1" fill="#000"/>
<circle cx="324.9" cy="329.0" r="3.4" fill="#000"/>
<polygon points="324.9,323.8 329.1,331.4 320.7,331.4" fill="#000"/>
<circle cx="333.4" cy="330.5" r="3.4" fill="#000"/>
<polygon points="333.4,325.6 337.6,333.2 329.2,333.2" fill="#000"/>
<circle cx="342.0" cy="330.5" r="3.4" fill="#000"/>
<polygon points="342.0,326.1 346.2,333.7 337.8,333.7" fill="#000"/>
<polygon points="342.0,324.9 345.5,331.1 338.5,331.1" fill="#fff" stroke="#000" stroke-width="1.0" stroke-linejoin="miter"/>
<circle cx="350.6" cy="332.0" r="3.4" fill="#000"/>
<polygon points="350.6,329.7 354.8,337.3 346.4,337.3" fill="#000"/>
<polygon points="350.6,326.4 354.1,332.6 347.1,332.6" fill="#fff" stroke="#000" stroke-width="1.0" stroke-linejoin="miter"/>
<polygon points="359.1,328.9 362.6,335.1 355.6,335.1" fill="#fff" stroke="#000" stroke-width="1.0" stroke-linejoin="miter"/>
<polygon points="359.1,327.1 363.3,334.7 354.9,334.7" fill="#000"/>
<polygon points="367.6,328.1 371.8,335.7 363.4,335.7" fill="#000"/>
<polygon points="367.6,328.6 371.1,334.8 364.1,334.8" fill="#fff" stroke="#000" stroke-width="1.0" stroke-linejoin="miter"/>
<polygon points="376.2,328.6 380.4,336.2 372.0,336.2" fill="#000"/>
<polygon points="376.2,328.9 379.7,335.1 372.7,335.1" fill="#fff" stroke="#000" stroke-width="1.0" stroke-linejoin="miter"/>
<polygon points="384.8,329.4 388.2,335.6 381.2,335.6" fill="#fff" stroke="#000" stroke-width="1.0" stroke-linejoin="miter"/>
<polygon points="384.8,327.1 388.9,334.7 380.6,334.7" fill="#000"/>
<polygon points="393.3,329.4 396.8,335.6 389.8,335.6" fill="#fff" stroke="#000" stroke-width="1.0" stroke-linejoin="miter"/>
<polygon points="393.3,327.1 397.5,334.7 389.1,334.7" fill="#000"/>
<polygon points="401.9,328.6 406.1,336.2 397.7,336.2" fill="#000"/>
<polygon points="401.9,328.9 405.4,335.1 398.4,335.1" fill="#fff" stroke="#000" stroke-width="1.0" stroke-linejoin="miter"/>
<polygon points="410.4,328.6 414.6,336.2 406.2,336.2" fill="#000"/>
<polygon points="410.4,328.9 413.9,335.1 406.9,335.1" fill="#fff" stroke="#000" stroke-width="1.0" stroke-linejoin="miter"/>
<polygon points="419.0,329.4 422.5,335.6 415.5,335.6" fill="#fff" stroke="#000" stroke-width="1.0" stroke-linejoin="miter"/>
<polygon points="419.0,327.1 423.2,334.7 414.8,334.7" fill="#000"/>
<polygon points="427.5,328.9 431.0,335.1 424.0,335.1" fill="#fff" stroke="#000" stroke-width="1.0" stroke-linejoin="miter"/>
<polygon points="427.5,324.6 431.7,332.2 423.3,332.2" fill="#000"/>
<polygon points="436.1,329.1 440.2,336.7 431.9,336.7" fill="#000"/>
<polygon points="436.1,329.4 439.6,335.6 432.6,335.6" fill="#fff" stroke="#000" stroke-width="1.0" stroke-linejoin="miter"/>
<circle cx="444.6" cy="330.0" r="3.4" fill="#000"/>
<polygon points="444.6,329.9 448.1,336.1 441.1,336.1" fill="#fff" stroke="#000" stroke-width="1.0" stroke-linejoin="miter"/>
<polygon points="453.1,326.6 457.3,334.2 448.9,334.2" fill="#000"/>
<circle cx="453.1" cy="332.0" r="3.4" fill="#000"/>
<circle cx="461.7" cy="332.5" r="3.4" fill="#000"/>
<polygon points="461.7,328.1 465.9,335.7 457.5,335.7" fill="#000"/>
<polygon points="470.2,330.6 473.8,336.7 466.8,336.7" fill="#fff" stroke="#000" stroke-width="1.0" stroke-linejoin="miter"/>
<circle cx="470.2" cy="329.0" r="3.1" fill="#fff" stroke="#000" stroke-width="1.1"/>
<circle cx="478.8" cy="333.4" r="3.1" fill="#fff" stroke="#000" stroke-width="1.1"/>
<circle cx="487.4" cy="333.4" r="3.4" fill="#000"/>
<polygon points="498.8,328.6 503.0,336.2 494.6,336.2" fill="#000"/>
<polygon points="492.7,329.9 496.2,336.1 489.2,336.1" fill="#fff" stroke="#000" stroke-width="1.0" stroke-linejoin="miter"/>
<circle cx="492.7" cy="330.5" r="3.1" fill="#fff" stroke="#000" stroke-width="1.1"/>
<polygon points="504.5,329.4 508.0,335.6 501.0,335.6" fill="#fff" stroke="#000" stroke-width="1.0" stroke-linejoin="miter"/>
<circle cx="513.0" cy="333.4" r="3.4" fill="#000"/>
<defs><pattern id="h" width="20" height="6.9" patternUnits="userSpaceOnUse" patternTransform="translate(0,-1.2) skewY(-35)"><rect width="20" height="6.9" fill="#fff"/><rect y="0" width="20" height="3.75" fill="#000"/></pattern></defs>
<rect x="107.30" y="508.25" width="17.4" height="186.25" fill="#000"/>
<rect x="136.55" y="517.56" width="17.4" height="176.94" fill="#000"/>
<rect x="166.50" y="582.50" width="17" height="112.40" fill="#fff" stroke="#000" stroke-width="1.25"/>
<rect x="196.50" y="497.50" width="17" height="197.40" fill="#fff" stroke="#000" stroke-width="1.25"/>
<rect x="226.50" y="629.50" width="17" height="64.80" fill="url(#h)" stroke="#000" stroke-width="1.4"/>
<rect x="256.50" y="522.50" width="17" height="171.80" fill="url(#h)" stroke="#000" stroke-width="1.4"/>
<rect x="323.30" y="508.62" width="17.4" height="185.88" fill="#000"/>
<rect x="353.00" y="652.78" width="17.4" height="41.72" fill="#000"/>
<rect x="382.30" y="692.26" width="18.2" height="2.54" fill="#444"/>
<rect x="412.50" y="533.50" width="17" height="161.40" fill="#fff" stroke="#000" stroke-width="1.25"/>
<rect x="441.60" y="692.45" width="18.2" height="2.35" fill="#444"/>
<rect x="472.50" y="556.50" width="17" height="137.80" fill="url(#h)" stroke="#000" stroke-width="1.4"/>
<rect x="81.5" y="452.2" width="431.0" height="242.3" fill="none" stroke="#000" stroke-width="1.2"/>
<line x1="297.6" x2="297.6" y1="452.2" y2="694.5" stroke="#000" stroke-width="1.1" stroke-dasharray="4.4 2.5" stroke-dashoffset="0"/>
<line x1="76.5" x2="81.5" y1="694.5" y2="694.5" stroke="#000" stroke-width="1.1"/>
<text x="72.2" y="701.4" font-size="17.5" text-anchor="end" textLength="10.2" lengthAdjust="spacingAndGlyphs" >0</text>
<line x1="76.5" x2="81.5" y1="657.2" y2="657.2" stroke="#000" stroke-width="1.1"/>
<text x="72.2" y="664.1" font-size="17.5" text-anchor="end" textLength="21.4" lengthAdjust="spacingAndGlyphs" >20</text>
<line x1="76.5" x2="81.5" y1="620.0" y2="620.0" stroke="#000" stroke-width="1.1"/>
<text x="72.2" y="626.9" font-size="17.5" text-anchor="end" textLength="21.4" lengthAdjust="spacingAndGlyphs" >40</text>
<line x1="76.5" x2="81.5" y1="582.8" y2="582.8" stroke="#000" stroke-width="1.1"/>
<text x="72.2" y="589.6" font-size="17.5" text-anchor="end" textLength="21.4" lengthAdjust="spacingAndGlyphs" >60</text>
<line x1="76.5" x2="81.5" y1="545.5" y2="545.5" stroke="#000" stroke-width="1.1"/>
<text x="72.2" y="552.4" font-size="17.5" text-anchor="end" textLength="21.4" lengthAdjust="spacingAndGlyphs" >80</text>
<line x1="76.5" x2="81.5" y1="508.2" y2="508.2" stroke="#000" stroke-width="1.1"/>
<text x="72.2" y="515.1" font-size="17.5" text-anchor="end" textLength="32.2" lengthAdjust="spacingAndGlyphs" >100</text>
<text x="160.0" y="479.3" font-size="17.8" text-anchor="start" textLength="81" lengthAdjust="spacingAndGlyphs" >14 pM TF</text>
<text x="373.2" y="479.3" font-size="17.8" text-anchor="start" textLength="86.5" lengthAdjust="spacingAndGlyphs" >1.4 pM TF</text>
<text transform="translate(17.4,614.6) rotate(-90)" font-size="20" textLength="80.5" lengthAdjust="spacingAndGlyphs">ETP (%)</text>
<text x="93.8" y="726.3" font-size="20" text-anchor="end" textLength="93.5" lengthAdjust="spacingAndGlyphs" >anti prot S</text>
<path d="M109.7,719.7h12M115.7,713.7v12" stroke="#000" stroke-width="1.5" fill="none"/>
<path d="M142.0,720.1h5.8" stroke="#000" stroke-width="1.6" fill="none"/>
<path d="M172.0,720.1h5.8" stroke="#000" stroke-width="1.6" fill="none"/>
<path d="M198.7,719.7h12M204.7,713.7v12" stroke="#000" stroke-width="1.5" fill="none"/>
<path d="M231.6,720.1h5.8" stroke="#000" stroke-width="1.6" fill="none"/>
<path d="M258.4,719.7h12M264.4,713.7v12" stroke="#000" stroke-width="1.5" fill="none"/>
<path d="M325.7,719.7h12M331.7,713.7v12" stroke="#000" stroke-width="1.5" fill="none"/>
<path d="M358.5,720.1h5.8" stroke="#000" stroke-width="1.6" fill="none"/>
<path d="M388.2,720.1h5.8" stroke="#000" stroke-width="1.6" fill="none"/>
<path d="M415.0,719.7h12M421.0,713.7v12" stroke="#000" stroke-width="1.5" fill="none"/>
<path d="M447.5,720.1h5.8" stroke="#000" stroke-width="1.6" fill="none"/>
<path d="M474.3,719.7h12M480.3,713.7v12" stroke="#000" stroke-width="1.5" fill="none"/>
<text x="93.8" y="753.7" font-size="20" text-anchor="end" textLength="93.5" lengthAdjust="spacingAndGlyphs" >anti prot C</text>
<path d="M109.7,747.1h12M115.7,741.1v12" stroke="#000" stroke-width="1.5" fill="none"/>
<path d="M138.9,747.1h12M144.9,741.1v12" stroke="#000" stroke-width="1.5" fill="none"/>
<path d="M172.0,747.5h5.8" stroke="#000" stroke-width="1.6" fill="none"/>
<path d="M201.8,747.5h5.8" stroke="#000" stroke-width="1.6" fill="none"/>
<path d="M231.6,747.5h5.8" stroke="#000" stroke-width="1.6" fill="none"/>
<path d="M261.5,747.5h5.8" stroke="#000" stroke-width="1.6" fill="none"/>
<path d="M325.7,747.1h12M331.7,741.1v12" stroke="#000" stroke-width="1.5" fill="none"/>
<path d="M355.4,747.1h12M361.4,741.1v12" stroke="#000" stroke-width="1.5" fill="none"/>
<path d="M388.2,747.5h5.8" stroke="#000" stroke-width="1.6" fill="none"/>
<path d="M418.1,747.5h5.8" stroke="#000" stroke-width="1.6" fill="none"/>
<path d="M447.5,747.5h5.8" stroke="#000" stroke-width="1.6" fill="none"/>
<path d="M477.4,747.5h5.8" stroke="#000" stroke-width="1.6" fill="none"/>
<text x="93.8" y="780.8" font-size="20" text-anchor="end" textLength="24.8" lengthAdjust="spacingAndGlyphs" >TM</text>
<path d="M112.8,774.6h5.8" stroke="#000" stroke-width="1.6" fill="none"/>
<path d="M142.0,774.6h5.8" stroke="#000" stroke-width="1.6" fill="none"/>
<path d="M168.9,774.2h12M174.9,768.2v12" stroke="#000" stroke-width="1.5" fill="none"/>
<path d="M198.7,774.2h12M204.7,768.2v12" stroke="#000" stroke-width="1.5" fill="none"/>
<path d="M231.6,774.6h5.8" stroke="#000" stroke-width="1.6" fill="none"/>
<path d="M261.5,774.6h5.8" stroke="#000" stroke-width="1.6" fill="none"/>
<path d="M328.8,774.6h5.8" stroke="#000" stroke-width="1.6" fill="none"/>
<path d="M358.5,774.6h5.8" stroke="#000" stroke-width="1.6" fill="none"/>
<path d="M385.1,774.2h12M391.1,768.2v12" stroke="#000" stroke-width="1.5" fill="none"/>
<path d="M415.0,774.2h12M421.0,768.2v12" stroke="#000" stroke-width="1.5" fill="none"/>
<path d="M447.5,774.6h5.8" stroke="#000" stroke-width="1.6" fill="none"/>
<path d="M477.4,774.6h5.8" stroke="#000" stroke-width="1.6" fill="none"/>
<text x="93.8" y="808.0" font-size="20" text-anchor="end" textLength="34.8" lengthAdjust="spacingAndGlyphs" >APC</text>
<path d="M112.8,801.8h5.8" stroke="#000" stroke-width="1.6" fill="none"/>
<path d="M142.0,801.8h5.8" stroke="#000" stroke-width="1.6" fill="none"/>
<path d="M172.0,801.8h5.8" stroke="#000" stroke-width="1.6" fill="none"/>
<path d="M201.8,801.8h5.8" stroke="#000" stroke-width="1.6" fill="none"/>
<path d="M228.5,801.4h12M234.5,795.4v12" stroke="#000" stroke-width="1.5" fill="none"/>
<path d="M258.4,801.4h12M264.4,795.4v12" stroke="#000" stroke-width="1.5" fill="none"/>
<path d="M328.8,801.8h5.8" stroke="#000" stroke-width="1.6" fill="none"/>
<path d="M358.5,801.8h5.8" stroke="#000" stroke-width="1.6" fill="none"/>
<path d="M388.2,801.8h5.8" stroke="#000" stroke-width="1.6" fill="none"/>
<path d="M418.1,801.8h5.8" stroke="#000" stroke-width="1.6" fill="none"/>
<path d="M444.4,801.4h12M450.4,795.4v12" stroke="#000" stroke-width="1.5" fill="none"/>
<path d="M474.3,801.4h12M480.3,795.4v12" stroke="#000" stroke-width="1.5" fill="none"/>
</svg>
</body></html>
